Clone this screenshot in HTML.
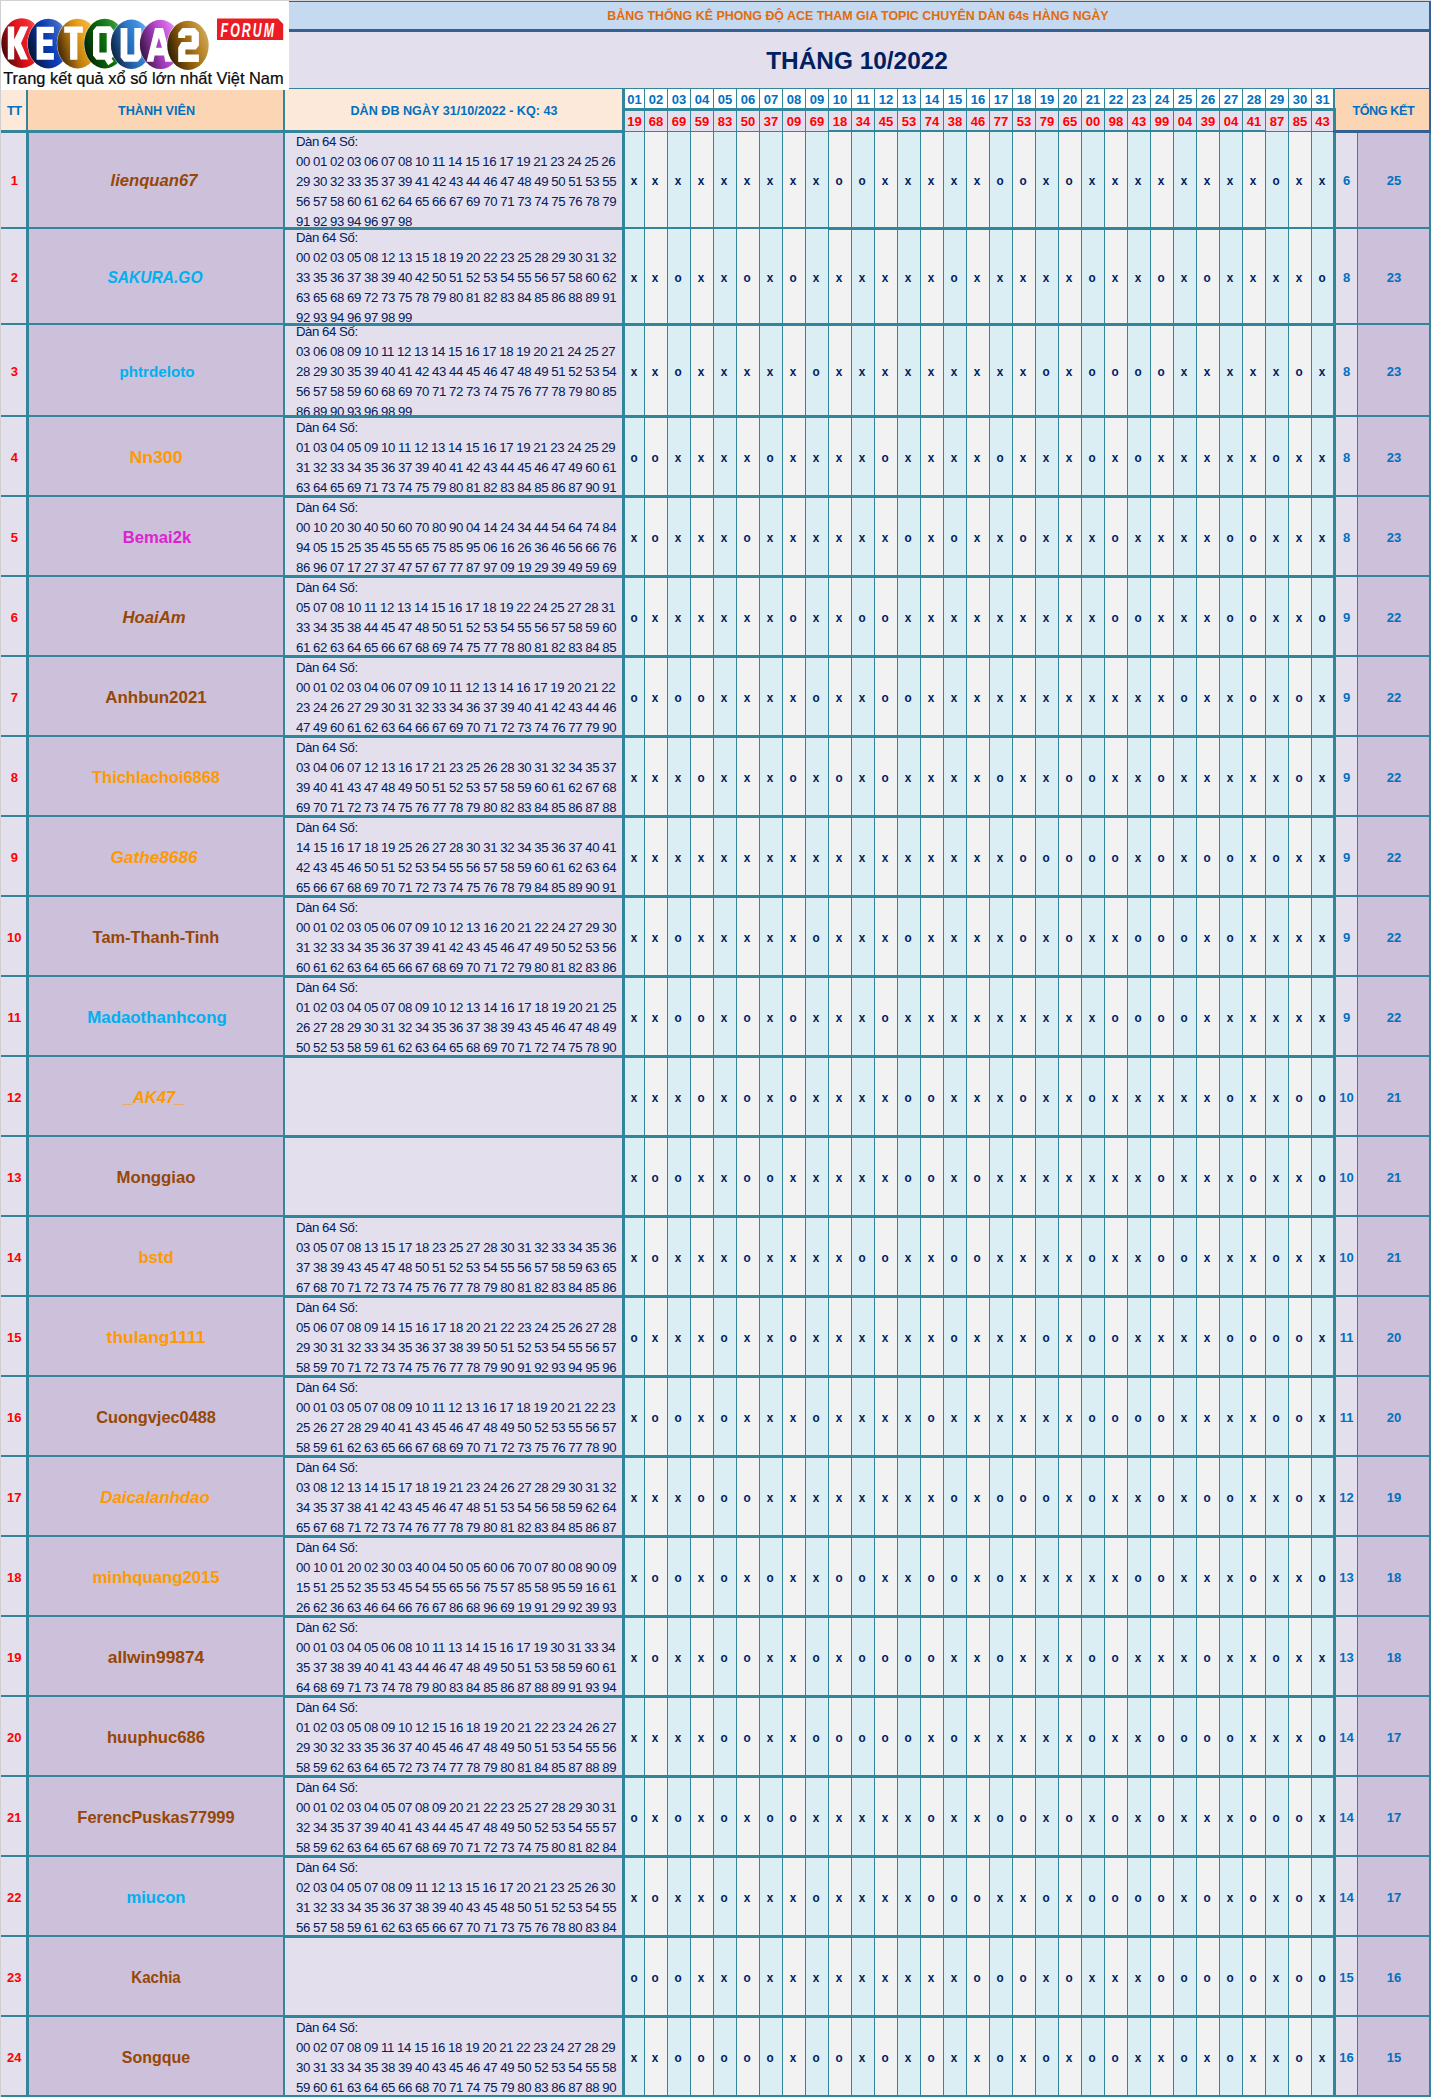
<!DOCTYPE html>
<html><head><meta charset="utf-8"><title>Thong ke</title>
<style>
html,body{margin:0;padding:0;background:#E4DFEC;}
body{width:1431px;height:2097px;overflow:hidden;font-family:"Liberation Sans",sans-serif;}
#pg{position:relative;width:1431px;height:2097px;overflow:hidden;}
#pg i{position:absolute;display:block;}
.t{position:absolute;white-space:nowrap;transform:translate(-50%,-50%);font-weight:bold;line-height:1;}
.ttl{color:#E26B0A;font-size:12.43px;}
.mon{color:#002060;font-size:24.4px;}
.hd{color:#0070C0;font-size:12.6px;}
.dy{color:#0070C0;font-size:13px;}
.rs{color:#FF0000;font-size:13px;}
.tt{color:#FF0000;font-size:13px;}
.nm{font-size:17px;}
.nm.it{font-style:italic;}
.nm.sm{font-size:15px;}
.mk{color:#002060;font-size:13.5px;transform:translate(-50%,-50%) scaleX(0.87);}
.ct{color:#0070C0;font-size:13px;}
.dc{position:absolute;left:285px;width:337px;overflow:hidden;}
.dl{position:absolute;left:10.9px;color:#002060;font-size:13.2px;white-space:nowrap;letter-spacing:-0.34px;word-spacing:-0.29px;}
.dl p{margin:0;height:20px;line-height:20px;}

</style></head><body>
<div id="pg">
<i style="left:289px;top:0px;width:1142px;height:1px;background:#D6D6D6;"></i>
<i style="left:289px;top:1px;width:1142px;height:1px;background:#366092;"></i>
<i style="left:289px;top:2px;width:1140px;height:27px;background:#C5D9F1;"></i>
<i style="left:289px;top:29px;width:1142px;height:3px;background:#366092;"></i>
<i style="left:289px;top:32px;width:1140px;height:56px;background:#E4DFEC;"></i>
<i style="left:289px;top:88px;width:1047px;height:1px;background:#31869B;"></i>
<i style="left:1336px;top:88px;width:93px;height:1px;background:#366092;"></i>
<i style="left:1429px;top:1px;width:2px;height:132px;background:#366092;"></i>
<i style="left:1px;top:90px;width:25px;height:40px;background:#FDE9D9;"></i>
<i style="left:29px;top:90px;width:254px;height:40px;background:#FCD5B4;"></i>
<i style="left:285px;top:89px;width:337px;height:41px;background:#FDE9D9;"></i>
<i style="left:1336px;top:89px;width:93px;height:41px;background:#FCD5B4;"></i>
<i style="left:1336px;top:130px;width:95px;height:3px;background:#366092;"></i>
<i style="left:624px;top:89px;width:20px;height:19px;background:#fff;"></i>
<i style="left:625px;top:111px;width:19px;height:20px;background:#E4DFEC;"></i>
<i style="left:645px;top:89px;width:22px;height:19px;background:#fff;"></i>
<i style="left:645px;top:111px;width:22px;height:20px;background:#E4DFEC;"></i>
<i style="left:668px;top:89px;width:22px;height:19px;background:#fff;"></i>
<i style="left:668px;top:111px;width:22px;height:20px;background:#E4DFEC;"></i>
<i style="left:691px;top:89px;width:22px;height:19px;background:#fff;"></i>
<i style="left:691px;top:111px;width:22px;height:20px;background:#E4DFEC;"></i>
<i style="left:714px;top:89px;width:22px;height:19px;background:#fff;"></i>
<i style="left:714px;top:111px;width:22px;height:20px;background:#E4DFEC;"></i>
<i style="left:737px;top:89px;width:22px;height:19px;background:#fff;"></i>
<i style="left:737px;top:111px;width:22px;height:20px;background:#E4DFEC;"></i>
<i style="left:760px;top:89px;width:22px;height:19px;background:#fff;"></i>
<i style="left:760px;top:111px;width:22px;height:20px;background:#E4DFEC;"></i>
<i style="left:783px;top:89px;width:22px;height:19px;background:#fff;"></i>
<i style="left:783px;top:111px;width:22px;height:20px;background:#E4DFEC;"></i>
<i style="left:806px;top:89px;width:22px;height:19px;background:#fff;"></i>
<i style="left:806px;top:111px;width:22px;height:20px;background:#E4DFEC;"></i>
<i style="left:829px;top:89px;width:22px;height:19px;background:#fff;"></i>
<i style="left:829px;top:111px;width:22px;height:20px;background:#E4DFEC;"></i>
<i style="left:852px;top:89px;width:22px;height:19px;background:#fff;"></i>
<i style="left:852px;top:111px;width:22px;height:20px;background:#E4DFEC;"></i>
<i style="left:875px;top:89px;width:22px;height:19px;background:#fff;"></i>
<i style="left:875px;top:111px;width:22px;height:20px;background:#E4DFEC;"></i>
<i style="left:898px;top:89px;width:22px;height:19px;background:#fff;"></i>
<i style="left:898px;top:111px;width:22px;height:20px;background:#E4DFEC;"></i>
<i style="left:921px;top:89px;width:22px;height:19px;background:#fff;"></i>
<i style="left:921px;top:111px;width:22px;height:20px;background:#E4DFEC;"></i>
<i style="left:944px;top:89px;width:22px;height:19px;background:#fff;"></i>
<i style="left:944px;top:111px;width:22px;height:20px;background:#E4DFEC;"></i>
<i style="left:967px;top:89px;width:22px;height:19px;background:#fff;"></i>
<i style="left:967px;top:111px;width:22px;height:20px;background:#E4DFEC;"></i>
<i style="left:990px;top:89px;width:22px;height:19px;background:#fff;"></i>
<i style="left:990px;top:111px;width:22px;height:20px;background:#E4DFEC;"></i>
<i style="left:1013px;top:89px;width:22px;height:19px;background:#fff;"></i>
<i style="left:1013px;top:111px;width:22px;height:20px;background:#E4DFEC;"></i>
<i style="left:1036px;top:89px;width:22px;height:19px;background:#fff;"></i>
<i style="left:1036px;top:111px;width:22px;height:20px;background:#E4DFEC;"></i>
<i style="left:1059px;top:89px;width:22px;height:19px;background:#fff;"></i>
<i style="left:1059px;top:111px;width:22px;height:20px;background:#E4DFEC;"></i>
<i style="left:1082px;top:89px;width:22px;height:19px;background:#fff;"></i>
<i style="left:1082px;top:111px;width:22px;height:20px;background:#E4DFEC;"></i>
<i style="left:1105px;top:89px;width:22px;height:19px;background:#fff;"></i>
<i style="left:1105px;top:111px;width:22px;height:20px;background:#E4DFEC;"></i>
<i style="left:1128px;top:89px;width:22px;height:19px;background:#fff;"></i>
<i style="left:1128px;top:111px;width:22px;height:20px;background:#E4DFEC;"></i>
<i style="left:1151px;top:89px;width:22px;height:19px;background:#fff;"></i>
<i style="left:1151px;top:111px;width:22px;height:20px;background:#E4DFEC;"></i>
<i style="left:1174px;top:89px;width:22px;height:19px;background:#fff;"></i>
<i style="left:1174px;top:111px;width:22px;height:20px;background:#E4DFEC;"></i>
<i style="left:1197px;top:89px;width:22px;height:19px;background:#fff;"></i>
<i style="left:1197px;top:111px;width:22px;height:20px;background:#E4DFEC;"></i>
<i style="left:1220px;top:89px;width:22px;height:19px;background:#fff;"></i>
<i style="left:1220px;top:111px;width:22px;height:20px;background:#E4DFEC;"></i>
<i style="left:1243px;top:89px;width:22px;height:19px;background:#fff;"></i>
<i style="left:1243px;top:111px;width:22px;height:20px;background:#E4DFEC;"></i>
<i style="left:1266px;top:89px;width:22px;height:19px;background:#fff;"></i>
<i style="left:1266px;top:111px;width:22px;height:20px;background:#E4DFEC;"></i>
<i style="left:1289px;top:89px;width:22px;height:19px;background:#fff;"></i>
<i style="left:1289px;top:111px;width:22px;height:20px;background:#E4DFEC;"></i>
<i style="left:1312px;top:89px;width:21px;height:19px;background:#fff;"></i>
<i style="left:1312px;top:111px;width:21px;height:20px;background:#E4DFEC;"></i>
<i style="left:622px;top:108px;width:714px;height:3px;background:#31869B;"></i>
<i style="left:622px;top:131px;width:714px;height:1px;background:#31869B;"></i>
<i style="left:828px;top:130px;width:438px;height:1px;background:#31869B;"></i>
<i style="left:1px;top:130px;width:621px;height:3px;background:#31869B;"></i>
<i style="left:1px;top:133px;width:25px;height:1962px;background:#E4DFEC;"></i>
<i style="left:29px;top:133px;width:254px;height:1962px;background:#CCC0DA;"></i>
<i style="left:285px;top:133px;width:337px;height:1962px;background:#E4DFEC;"></i>
<i style="left:625px;top:132px;width:19px;height:1963px;background:#DAEEF3;"></i>
<i style="left:645px;top:132px;width:22px;height:1963px;background:#F2F2F2;"></i>
<i style="left:668px;top:132px;width:22px;height:1963px;background:#DAEEF3;"></i>
<i style="left:691px;top:132px;width:22px;height:1963px;background:#F2F2F2;"></i>
<i style="left:714px;top:132px;width:22px;height:1963px;background:#DAEEF3;"></i>
<i style="left:737px;top:132px;width:22px;height:1963px;background:#F2F2F2;"></i>
<i style="left:760px;top:132px;width:22px;height:1963px;background:#DAEEF3;"></i>
<i style="left:783px;top:132px;width:22px;height:1963px;background:#F2F2F2;"></i>
<i style="left:806px;top:132px;width:22px;height:1963px;background:#DAEEF3;"></i>
<i style="left:829px;top:132px;width:22px;height:1963px;background:#F2F2F2;"></i>
<i style="left:852px;top:132px;width:22px;height:1963px;background:#DAEEF3;"></i>
<i style="left:875px;top:132px;width:22px;height:1963px;background:#F2F2F2;"></i>
<i style="left:898px;top:132px;width:22px;height:1963px;background:#DAEEF3;"></i>
<i style="left:921px;top:132px;width:22px;height:1963px;background:#F2F2F2;"></i>
<i style="left:944px;top:132px;width:22px;height:1963px;background:#DAEEF3;"></i>
<i style="left:967px;top:132px;width:22px;height:1963px;background:#F2F2F2;"></i>
<i style="left:990px;top:132px;width:22px;height:1963px;background:#DAEEF3;"></i>
<i style="left:1013px;top:132px;width:22px;height:1963px;background:#F2F2F2;"></i>
<i style="left:1036px;top:132px;width:22px;height:1963px;background:#DAEEF3;"></i>
<i style="left:1059px;top:132px;width:22px;height:1963px;background:#F2F2F2;"></i>
<i style="left:1082px;top:132px;width:22px;height:1963px;background:#DAEEF3;"></i>
<i style="left:1105px;top:132px;width:22px;height:1963px;background:#F2F2F2;"></i>
<i style="left:1128px;top:132px;width:22px;height:1963px;background:#DAEEF3;"></i>
<i style="left:1151px;top:132px;width:22px;height:1963px;background:#F2F2F2;"></i>
<i style="left:1174px;top:132px;width:22px;height:1963px;background:#DAEEF3;"></i>
<i style="left:1197px;top:132px;width:22px;height:1963px;background:#F2F2F2;"></i>
<i style="left:1220px;top:132px;width:22px;height:1963px;background:#DAEEF3;"></i>
<i style="left:1243px;top:132px;width:22px;height:1963px;background:#F2F2F2;"></i>
<i style="left:1266px;top:132px;width:22px;height:1963px;background:#DAEEF3;"></i>
<i style="left:1289px;top:132px;width:22px;height:1963px;background:#F2F2F2;"></i>
<i style="left:1312px;top:132px;width:21px;height:1963px;background:#DAEEF3;"></i>
<i style="left:1336px;top:133px;width:21px;height:1962px;background:#E4DFEC;"></i>
<i style="left:1358px;top:133px;width:71px;height:1962px;background:#CCC0DA;"></i>
<i style="left:0px;top:0px;width:1px;height:2097px;background:#D0D0D0;"></i>
<i style="left:26px;top:90px;width:3px;height:2007px;background:#31869B;"></i>
<i style="left:283px;top:90px;width:2px;height:2007px;background:#31869B;"></i>
<i style="left:622px;top:89px;width:3px;height:2008px;background:#31869B;"></i>
<i style="left:644px;top:89px;width:1px;height:2008px;background:#31869B;"></i>
<i style="left:667px;top:89px;width:1px;height:2008px;background:#31869B;"></i>
<i style="left:690px;top:89px;width:1px;height:2008px;background:#31869B;"></i>
<i style="left:713px;top:89px;width:1px;height:2008px;background:#31869B;"></i>
<i style="left:736px;top:89px;width:1px;height:2008px;background:#31869B;"></i>
<i style="left:759px;top:89px;width:1px;height:2008px;background:#31869B;"></i>
<i style="left:782px;top:89px;width:1px;height:2008px;background:#31869B;"></i>
<i style="left:805px;top:89px;width:1px;height:2008px;background:#31869B;"></i>
<i style="left:828px;top:89px;width:1px;height:2008px;background:#31869B;"></i>
<i style="left:851px;top:89px;width:1px;height:2008px;background:#31869B;"></i>
<i style="left:874px;top:89px;width:1px;height:2008px;background:#31869B;"></i>
<i style="left:897px;top:89px;width:1px;height:2008px;background:#31869B;"></i>
<i style="left:920px;top:89px;width:1px;height:2008px;background:#31869B;"></i>
<i style="left:943px;top:89px;width:1px;height:2008px;background:#31869B;"></i>
<i style="left:966px;top:89px;width:1px;height:2008px;background:#31869B;"></i>
<i style="left:989px;top:89px;width:1px;height:2008px;background:#31869B;"></i>
<i style="left:1012px;top:89px;width:1px;height:2008px;background:#31869B;"></i>
<i style="left:1035px;top:89px;width:1px;height:2008px;background:#31869B;"></i>
<i style="left:1058px;top:89px;width:1px;height:2008px;background:#31869B;"></i>
<i style="left:1081px;top:89px;width:1px;height:2008px;background:#31869B;"></i>
<i style="left:1104px;top:89px;width:1px;height:2008px;background:#31869B;"></i>
<i style="left:1127px;top:89px;width:1px;height:2008px;background:#31869B;"></i>
<i style="left:1150px;top:89px;width:1px;height:2008px;background:#31869B;"></i>
<i style="left:1173px;top:89px;width:1px;height:2008px;background:#31869B;"></i>
<i style="left:1196px;top:89px;width:1px;height:2008px;background:#31869B;"></i>
<i style="left:1219px;top:89px;width:1px;height:2008px;background:#31869B;"></i>
<i style="left:1242px;top:89px;width:1px;height:2008px;background:#31869B;"></i>
<i style="left:1265px;top:89px;width:1px;height:2008px;background:#31869B;"></i>
<i style="left:1288px;top:89px;width:1px;height:2008px;background:#31869B;"></i>
<i style="left:1311px;top:89px;width:1px;height:2008px;background:#31869B;"></i>
<i style="left:1333px;top:89px;width:3px;height:2008px;background:#31869B;"></i>
<i style="left:1335px;top:89px;width:1px;height:19px;background:#FCD5B4;"></i>
<i style="left:1333px;top:130px;width:3px;height:3px;background:#366092;"></i>
<i style="left:1335px;top:88px;width:1px;height:1px;background:#366092;"></i>
<i style="left:28px;top:90px;width:1px;height:40px;background:#FCD5B4;"></i>
<i style="left:1357px;top:133px;width:1px;height:1964px;background:#31869B;"></i>
<i style="left:1429px;top:133px;width:2px;height:1964px;background:#31869B;"></i>
<i style="left:1px;top:227px;width:1430px;height:2px;background:#31869B;"></i>
<i style="left:828px;top:229px;width:438px;height:1px;background:#31869B;"></i>
<i style="left:285px;top:229px;width:337px;height:1px;background:#31869B;"></i>
<i style="left:1px;top:323px;width:1430px;height:2px;background:#31869B;"></i>
<i style="left:285px;top:325px;width:1051px;height:1px;background:#31869B;"></i>
<i style="left:1px;top:415px;width:1430px;height:2px;background:#31869B;"></i>
<i style="left:285px;top:417px;width:1051px;height:1px;background:#31869B;"></i>
<i style="left:1px;top:495px;width:1430px;height:2px;background:#31869B;"></i>
<i style="left:285px;top:497px;width:1051px;height:1px;background:#31869B;"></i>
<i style="left:1px;top:575px;width:1430px;height:2px;background:#31869B;"></i>
<i style="left:285px;top:577px;width:1051px;height:1px;background:#31869B;"></i>
<i style="left:1px;top:655px;width:1430px;height:2px;background:#31869B;"></i>
<i style="left:285px;top:657px;width:1051px;height:1px;background:#31869B;"></i>
<i style="left:1px;top:735px;width:1430px;height:2px;background:#31869B;"></i>
<i style="left:285px;top:737px;width:1051px;height:1px;background:#31869B;"></i>
<i style="left:1px;top:815px;width:1430px;height:2px;background:#31869B;"></i>
<i style="left:285px;top:817px;width:1051px;height:1px;background:#31869B;"></i>
<i style="left:1px;top:895px;width:1430px;height:2px;background:#31869B;"></i>
<i style="left:285px;top:897px;width:1051px;height:1px;background:#31869B;"></i>
<i style="left:1px;top:975px;width:1430px;height:2px;background:#31869B;"></i>
<i style="left:285px;top:977px;width:1051px;height:1px;background:#31869B;"></i>
<i style="left:1px;top:1055px;width:1430px;height:2px;background:#31869B;"></i>
<i style="left:285px;top:1057px;width:1051px;height:1px;background:#31869B;"></i>
<i style="left:1px;top:1135px;width:1430px;height:2px;background:#31869B;"></i>
<i style="left:285px;top:1137px;width:1051px;height:1px;background:#31869B;"></i>
<i style="left:1px;top:1215px;width:1430px;height:2px;background:#31869B;"></i>
<i style="left:285px;top:1217px;width:1051px;height:1px;background:#31869B;"></i>
<i style="left:1px;top:1295px;width:1430px;height:2px;background:#31869B;"></i>
<i style="left:285px;top:1297px;width:1051px;height:1px;background:#31869B;"></i>
<i style="left:1px;top:1375px;width:1430px;height:2px;background:#31869B;"></i>
<i style="left:285px;top:1377px;width:1051px;height:1px;background:#31869B;"></i>
<i style="left:1px;top:1455px;width:1430px;height:2px;background:#31869B;"></i>
<i style="left:285px;top:1457px;width:1051px;height:1px;background:#31869B;"></i>
<i style="left:1px;top:1535px;width:1430px;height:2px;background:#31869B;"></i>
<i style="left:285px;top:1537px;width:1051px;height:1px;background:#31869B;"></i>
<i style="left:1px;top:1615px;width:1430px;height:2px;background:#31869B;"></i>
<i style="left:285px;top:1617px;width:1051px;height:1px;background:#31869B;"></i>
<i style="left:1px;top:1695px;width:1430px;height:2px;background:#31869B;"></i>
<i style="left:285px;top:1697px;width:1051px;height:1px;background:#31869B;"></i>
<i style="left:1px;top:1775px;width:1430px;height:2px;background:#31869B;"></i>
<i style="left:285px;top:1777px;width:1051px;height:1px;background:#31869B;"></i>
<i style="left:1px;top:1855px;width:1430px;height:2px;background:#31869B;"></i>
<i style="left:285px;top:1857px;width:1051px;height:1px;background:#31869B;"></i>
<i style="left:1px;top:1935px;width:1430px;height:2px;background:#31869B;"></i>
<i style="left:285px;top:1937px;width:1051px;height:1px;background:#31869B;"></i>
<i style="left:1px;top:2015px;width:1430px;height:2px;background:#31869B;"></i>
<i style="left:285px;top:2017px;width:1051px;height:1px;background:#31869B;"></i>
<i style="left:1px;top:2095px;width:1430px;height:2px;background:#31869B;"></i>
<b class="t ttl" style="left:858px;top:16px;">BẢNG THỐNG KÊ PHONG ĐỘ ACE THAM GIA TOPIC CHUYÊN DÀN 64s HÀNG NGÀY</b>
<b class="t mon" style="left:857px;top:60.5px;">THÁNG 10/2022</b>
<b class="t hd" style="left:14.3px;top:110.5px;letter-spacing:-0.45px;">TT</b>
<b class="t hd" style="left:156.5px;top:110.5px;">THÀNH VIÊN</b>
<b class="t hd" style="left:454px;top:110.5px;">DÀN ĐB NGÀY 31/10/2022 - KQ: 43</b>
<b class="t hd" style="left:1383.4px;top:110.5px;letter-spacing:-0.39px;">TỔNG KẾT</b>
<b class="t dy" style="left:634.5px;top:98.5px;">01</b>
<b class="t rs" style="left:634.5px;top:120.5px;">19</b>
<b class="t dy" style="left:656.0px;top:98.5px;">02</b>
<b class="t rs" style="left:656.0px;top:120.5px;">68</b>
<b class="t dy" style="left:679.0px;top:98.5px;">03</b>
<b class="t rs" style="left:679.0px;top:120.5px;">69</b>
<b class="t dy" style="left:702.0px;top:98.5px;">04</b>
<b class="t rs" style="left:702.0px;top:120.5px;">59</b>
<b class="t dy" style="left:725.0px;top:98.5px;">05</b>
<b class="t rs" style="left:725.0px;top:120.5px;">83</b>
<b class="t dy" style="left:748.0px;top:98.5px;">06</b>
<b class="t rs" style="left:748.0px;top:120.5px;">50</b>
<b class="t dy" style="left:771.0px;top:98.5px;">07</b>
<b class="t rs" style="left:771.0px;top:120.5px;">37</b>
<b class="t dy" style="left:794.0px;top:98.5px;">08</b>
<b class="t rs" style="left:794.0px;top:120.5px;">09</b>
<b class="t dy" style="left:817.0px;top:98.5px;">09</b>
<b class="t rs" style="left:817.0px;top:120.5px;">69</b>
<b class="t dy" style="left:840.0px;top:98.5px;">10</b>
<b class="t rs" style="left:840.0px;top:120.5px;">18</b>
<b class="t dy" style="left:863.0px;top:98.5px;">11</b>
<b class="t rs" style="left:863.0px;top:120.5px;">34</b>
<b class="t dy" style="left:886.0px;top:98.5px;">12</b>
<b class="t rs" style="left:886.0px;top:120.5px;">45</b>
<b class="t dy" style="left:909.0px;top:98.5px;">13</b>
<b class="t rs" style="left:909.0px;top:120.5px;">53</b>
<b class="t dy" style="left:932.0px;top:98.5px;">14</b>
<b class="t rs" style="left:932.0px;top:120.5px;">74</b>
<b class="t dy" style="left:955.0px;top:98.5px;">15</b>
<b class="t rs" style="left:955.0px;top:120.5px;">38</b>
<b class="t dy" style="left:978.0px;top:98.5px;">16</b>
<b class="t rs" style="left:978.0px;top:120.5px;">46</b>
<b class="t dy" style="left:1001.0px;top:98.5px;">17</b>
<b class="t rs" style="left:1001.0px;top:120.5px;">77</b>
<b class="t dy" style="left:1024.0px;top:98.5px;">18</b>
<b class="t rs" style="left:1024.0px;top:120.5px;">53</b>
<b class="t dy" style="left:1047.0px;top:98.5px;">19</b>
<b class="t rs" style="left:1047.0px;top:120.5px;">79</b>
<b class="t dy" style="left:1070.0px;top:98.5px;">20</b>
<b class="t rs" style="left:1070.0px;top:120.5px;">65</b>
<b class="t dy" style="left:1093.0px;top:98.5px;">21</b>
<b class="t rs" style="left:1093.0px;top:120.5px;">00</b>
<b class="t dy" style="left:1116.0px;top:98.5px;">22</b>
<b class="t rs" style="left:1116.0px;top:120.5px;">98</b>
<b class="t dy" style="left:1139.0px;top:98.5px;">23</b>
<b class="t rs" style="left:1139.0px;top:120.5px;">43</b>
<b class="t dy" style="left:1162.0px;top:98.5px;">24</b>
<b class="t rs" style="left:1162.0px;top:120.5px;">99</b>
<b class="t dy" style="left:1185.0px;top:98.5px;">25</b>
<b class="t rs" style="left:1185.0px;top:120.5px;">04</b>
<b class="t dy" style="left:1208.0px;top:98.5px;">26</b>
<b class="t rs" style="left:1208.0px;top:120.5px;">39</b>
<b class="t dy" style="left:1231.0px;top:98.5px;">27</b>
<b class="t rs" style="left:1231.0px;top:120.5px;">04</b>
<b class="t dy" style="left:1254.0px;top:98.5px;">28</b>
<b class="t rs" style="left:1254.0px;top:120.5px;">41</b>
<b class="t dy" style="left:1277.0px;top:98.5px;">29</b>
<b class="t rs" style="left:1277.0px;top:120.5px;">87</b>
<b class="t dy" style="left:1300.0px;top:98.5px;">30</b>
<b class="t rs" style="left:1300.0px;top:120.5px;">85</b>
<b class="t dy" style="left:1322.5px;top:98.5px;">31</b>
<b class="t rs" style="left:1322.5px;top:120.5px;">43</b>
<b class="t tt" style="left:14.3px;top:179.5px;">1</b>
<b class="t nm it" style="left:154.1px;top:180.0px;color:#974706;transform:translate(-50%,-50%) scaleX(0.9777)">lienquan67</b>
<div class="dc" style="top:133px;height:94px"><div class="dl" style="top:-1.4px"><p>Dàn 64 Số:</p><p>00 01 02 03 06 07 08 10 11 14 15 16 17 19 21 23 24 25 26</p><p>29 30 32 33 35 37 39 41 42 43 44 46 47 48 49 50 51 53 55</p><p>56 57 58 60 61 62 64 65 66 67 69 70 71 73 74 75 76 78 79</p><p>91 92 93 94 96 97 98</p></div></div>
<b class="t mk" style="left:633.5px;top:180.5px;">x</b>
<b class="t mk" style="left:655.0px;top:180.5px;">x</b>
<b class="t mk" style="left:678.0px;top:180.5px;">x</b>
<b class="t mk" style="left:701.0px;top:180.5px;">x</b>
<b class="t mk" style="left:724.0px;top:180.5px;">x</b>
<b class="t mk" style="left:747.0px;top:180.5px;">x</b>
<b class="t mk" style="left:770.0px;top:180.5px;">x</b>
<b class="t mk" style="left:793.0px;top:180.5px;">x</b>
<b class="t mk" style="left:816.0px;top:180.5px;">x</b>
<b class="t mk" style="left:839.0px;top:180.5px;">o</b>
<b class="t mk" style="left:862.0px;top:180.5px;">o</b>
<b class="t mk" style="left:885.0px;top:180.5px;">x</b>
<b class="t mk" style="left:908.0px;top:180.5px;">x</b>
<b class="t mk" style="left:931.0px;top:180.5px;">x</b>
<b class="t mk" style="left:954.0px;top:180.5px;">x</b>
<b class="t mk" style="left:977.0px;top:180.5px;">x</b>
<b class="t mk" style="left:1000.0px;top:180.5px;">o</b>
<b class="t mk" style="left:1023.0px;top:180.5px;">o</b>
<b class="t mk" style="left:1046.0px;top:180.5px;">x</b>
<b class="t mk" style="left:1069.0px;top:180.5px;">o</b>
<b class="t mk" style="left:1092.0px;top:180.5px;">x</b>
<b class="t mk" style="left:1115.0px;top:180.5px;">x</b>
<b class="t mk" style="left:1138.0px;top:180.5px;">x</b>
<b class="t mk" style="left:1161.0px;top:180.5px;">x</b>
<b class="t mk" style="left:1184.0px;top:180.5px;">x</b>
<b class="t mk" style="left:1207.0px;top:180.5px;">x</b>
<b class="t mk" style="left:1230.0px;top:180.5px;">x</b>
<b class="t mk" style="left:1253.0px;top:180.5px;">x</b>
<b class="t mk" style="left:1276.0px;top:180.5px;">o</b>
<b class="t mk" style="left:1299.0px;top:180.5px;">x</b>
<b class="t mk" style="left:1321.5px;top:180.5px;">x</b>
<b class="t ct" style="left:1346.5px;top:179.5px;">6</b>
<b class="t ct" style="left:1394px;top:179.5px;">25</b>
<b class="t tt" style="left:14.3px;top:276.5px;">2</b>
<b class="t nm it" style="left:155.1px;top:277.0px;color:#00B0F0;transform:translate(-50%,-50%) scaleX(0.9148)">SAKURA.GO</b>
<div class="dc" style="top:229px;height:94px"><div class="dl" style="top:-1.4px"><p>Dàn 64 Số:</p><p>00 02 03 05 08 12 13 15 18 19 20 22 23 25 28 29 30 31 32</p><p>33 35 36 37 38 39 40 42 50 51 52 53 54 55 56 57 58 60 62</p><p>63 65 68 69 72 73 75 78 79 80 81 82 83 84 85 86 88 89 91</p><p>92 93 94 96 97 98 99</p></div></div>
<b class="t mk" style="left:633.5px;top:277.5px;">x</b>
<b class="t mk" style="left:655.0px;top:277.5px;">x</b>
<b class="t mk" style="left:678.0px;top:277.5px;">o</b>
<b class="t mk" style="left:701.0px;top:277.5px;">x</b>
<b class="t mk" style="left:724.0px;top:277.5px;">x</b>
<b class="t mk" style="left:747.0px;top:277.5px;">o</b>
<b class="t mk" style="left:770.0px;top:277.5px;">x</b>
<b class="t mk" style="left:793.0px;top:277.5px;">o</b>
<b class="t mk" style="left:816.0px;top:277.5px;">x</b>
<b class="t mk" style="left:839.0px;top:277.5px;">x</b>
<b class="t mk" style="left:862.0px;top:277.5px;">x</b>
<b class="t mk" style="left:885.0px;top:277.5px;">x</b>
<b class="t mk" style="left:908.0px;top:277.5px;">x</b>
<b class="t mk" style="left:931.0px;top:277.5px;">x</b>
<b class="t mk" style="left:954.0px;top:277.5px;">o</b>
<b class="t mk" style="left:977.0px;top:277.5px;">x</b>
<b class="t mk" style="left:1000.0px;top:277.5px;">x</b>
<b class="t mk" style="left:1023.0px;top:277.5px;">x</b>
<b class="t mk" style="left:1046.0px;top:277.5px;">x</b>
<b class="t mk" style="left:1069.0px;top:277.5px;">x</b>
<b class="t mk" style="left:1092.0px;top:277.5px;">o</b>
<b class="t mk" style="left:1115.0px;top:277.5px;">x</b>
<b class="t mk" style="left:1138.0px;top:277.5px;">x</b>
<b class="t mk" style="left:1161.0px;top:277.5px;">o</b>
<b class="t mk" style="left:1184.0px;top:277.5px;">x</b>
<b class="t mk" style="left:1207.0px;top:277.5px;">o</b>
<b class="t mk" style="left:1230.0px;top:277.5px;">x</b>
<b class="t mk" style="left:1253.0px;top:277.5px;">x</b>
<b class="t mk" style="left:1276.0px;top:277.5px;">x</b>
<b class="t mk" style="left:1299.0px;top:277.5px;">x</b>
<b class="t mk" style="left:1321.5px;top:277.5px;">o</b>
<b class="t ct" style="left:1346.5px;top:276.5px;">8</b>
<b class="t ct" style="left:1394px;top:276.5px;">23</b>
<b class="t tt" style="left:14.3px;top:370.5px;">3</b>
<b class="t nm sm" style="left:156.9px;top:371.0px;color:#00B0F0;transform:translate(-50%,-50%) scaleX(1.0137)">phtrdeloto</b>
<div class="dc" style="top:326px;height:89px"><div class="dl" style="top:-4.4px"><p>Dàn 64 Số:</p><p>03 06 08 09 10 11 12 13 14 15 16 17 18 19 20 21 24 25 27</p><p>28 29 30 35 39 40 41 42 43 44 45 46 47 48 49 51 52 53 54</p><p>56 57 58 59 60 68 69 70 71 72 73 74 75 76 77 78 79 80 85</p><p>86 89 90 93 96 98 99</p></div></div>
<b class="t mk" style="left:633.5px;top:371.5px;">x</b>
<b class="t mk" style="left:655.0px;top:371.5px;">x</b>
<b class="t mk" style="left:678.0px;top:371.5px;">o</b>
<b class="t mk" style="left:701.0px;top:371.5px;">x</b>
<b class="t mk" style="left:724.0px;top:371.5px;">x</b>
<b class="t mk" style="left:747.0px;top:371.5px;">x</b>
<b class="t mk" style="left:770.0px;top:371.5px;">x</b>
<b class="t mk" style="left:793.0px;top:371.5px;">x</b>
<b class="t mk" style="left:816.0px;top:371.5px;">o</b>
<b class="t mk" style="left:839.0px;top:371.5px;">x</b>
<b class="t mk" style="left:862.0px;top:371.5px;">x</b>
<b class="t mk" style="left:885.0px;top:371.5px;">x</b>
<b class="t mk" style="left:908.0px;top:371.5px;">x</b>
<b class="t mk" style="left:931.0px;top:371.5px;">x</b>
<b class="t mk" style="left:954.0px;top:371.5px;">x</b>
<b class="t mk" style="left:977.0px;top:371.5px;">x</b>
<b class="t mk" style="left:1000.0px;top:371.5px;">x</b>
<b class="t mk" style="left:1023.0px;top:371.5px;">x</b>
<b class="t mk" style="left:1046.0px;top:371.5px;">o</b>
<b class="t mk" style="left:1069.0px;top:371.5px;">x</b>
<b class="t mk" style="left:1092.0px;top:371.5px;">o</b>
<b class="t mk" style="left:1115.0px;top:371.5px;">o</b>
<b class="t mk" style="left:1138.0px;top:371.5px;">o</b>
<b class="t mk" style="left:1161.0px;top:371.5px;">o</b>
<b class="t mk" style="left:1184.0px;top:371.5px;">x</b>
<b class="t mk" style="left:1207.0px;top:371.5px;">x</b>
<b class="t mk" style="left:1230.0px;top:371.5px;">x</b>
<b class="t mk" style="left:1253.0px;top:371.5px;">x</b>
<b class="t mk" style="left:1276.0px;top:371.5px;">x</b>
<b class="t mk" style="left:1299.0px;top:371.5px;">o</b>
<b class="t mk" style="left:1321.5px;top:371.5px;">x</b>
<b class="t ct" style="left:1346.5px;top:370.5px;">8</b>
<b class="t ct" style="left:1394px;top:370.5px;">23</b>
<b class="t tt" style="left:14.3px;top:456.5px;">4</b>
<b class="t nm" style="left:156.4px;top:457.0px;color:#FF9900;transform:translate(-50%,-50%) scaleX(1.0412)">Nn300</b>
<div class="dc" style="top:418px;height:77px"><div class="dl" style="top:-0.4px"><p>Dàn 64 Số:</p><p>01 03 04 05 09 10 11 12 13 14 15 16 17 19 21 23 24 25 29</p><p>31 32 33 34 35 36 37 39 40 41 42 43 44 45 46 47 49 60 61</p><p>63 64 65 69 71 73 74 75 79 80 81 82 83 84 85 86 87 90 91</p></div></div>
<b class="t mk" style="left:633.5px;top:457.5px;">o</b>
<b class="t mk" style="left:655.0px;top:457.5px;">o</b>
<b class="t mk" style="left:678.0px;top:457.5px;">x</b>
<b class="t mk" style="left:701.0px;top:457.5px;">x</b>
<b class="t mk" style="left:724.0px;top:457.5px;">x</b>
<b class="t mk" style="left:747.0px;top:457.5px;">x</b>
<b class="t mk" style="left:770.0px;top:457.5px;">o</b>
<b class="t mk" style="left:793.0px;top:457.5px;">x</b>
<b class="t mk" style="left:816.0px;top:457.5px;">x</b>
<b class="t mk" style="left:839.0px;top:457.5px;">x</b>
<b class="t mk" style="left:862.0px;top:457.5px;">x</b>
<b class="t mk" style="left:885.0px;top:457.5px;">o</b>
<b class="t mk" style="left:908.0px;top:457.5px;">x</b>
<b class="t mk" style="left:931.0px;top:457.5px;">x</b>
<b class="t mk" style="left:954.0px;top:457.5px;">x</b>
<b class="t mk" style="left:977.0px;top:457.5px;">x</b>
<b class="t mk" style="left:1000.0px;top:457.5px;">o</b>
<b class="t mk" style="left:1023.0px;top:457.5px;">x</b>
<b class="t mk" style="left:1046.0px;top:457.5px;">x</b>
<b class="t mk" style="left:1069.0px;top:457.5px;">x</b>
<b class="t mk" style="left:1092.0px;top:457.5px;">o</b>
<b class="t mk" style="left:1115.0px;top:457.5px;">x</b>
<b class="t mk" style="left:1138.0px;top:457.5px;">o</b>
<b class="t mk" style="left:1161.0px;top:457.5px;">x</b>
<b class="t mk" style="left:1184.0px;top:457.5px;">x</b>
<b class="t mk" style="left:1207.0px;top:457.5px;">x</b>
<b class="t mk" style="left:1230.0px;top:457.5px;">x</b>
<b class="t mk" style="left:1253.0px;top:457.5px;">x</b>
<b class="t mk" style="left:1276.0px;top:457.5px;">o</b>
<b class="t mk" style="left:1299.0px;top:457.5px;">x</b>
<b class="t mk" style="left:1321.5px;top:457.5px;">x</b>
<b class="t ct" style="left:1346.5px;top:456.5px;">8</b>
<b class="t ct" style="left:1394px;top:456.5px;">23</b>
<b class="t tt" style="left:14.3px;top:536.5px;">5</b>
<b class="t nm" style="left:156.7px;top:537.0px;color:#DD22D0;transform:translate(-50%,-50%) scaleX(0.9769)">Bemai2k</b>
<div class="dc" style="top:498px;height:77px"><div class="dl" style="top:-0.4px"><p>Dàn 64 Số:</p><p>00 10 20 30 40 50 60 70 80 90 04 14 24 34 44 54 64 74 84</p><p>94 05 15 25 35 45 55 65 75 85 95 06 16 26 36 46 56 66 76</p><p>86 96 07 17 27 37 47 57 67 77 87 97 09 19 29 39 49 59 69</p></div></div>
<b class="t mk" style="left:633.5px;top:537.5px;">x</b>
<b class="t mk" style="left:655.0px;top:537.5px;">o</b>
<b class="t mk" style="left:678.0px;top:537.5px;">x</b>
<b class="t mk" style="left:701.0px;top:537.5px;">x</b>
<b class="t mk" style="left:724.0px;top:537.5px;">x</b>
<b class="t mk" style="left:747.0px;top:537.5px;">o</b>
<b class="t mk" style="left:770.0px;top:537.5px;">x</b>
<b class="t mk" style="left:793.0px;top:537.5px;">x</b>
<b class="t mk" style="left:816.0px;top:537.5px;">x</b>
<b class="t mk" style="left:839.0px;top:537.5px;">x</b>
<b class="t mk" style="left:862.0px;top:537.5px;">x</b>
<b class="t mk" style="left:885.0px;top:537.5px;">x</b>
<b class="t mk" style="left:908.0px;top:537.5px;">o</b>
<b class="t mk" style="left:931.0px;top:537.5px;">x</b>
<b class="t mk" style="left:954.0px;top:537.5px;">o</b>
<b class="t mk" style="left:977.0px;top:537.5px;">x</b>
<b class="t mk" style="left:1000.0px;top:537.5px;">x</b>
<b class="t mk" style="left:1023.0px;top:537.5px;">o</b>
<b class="t mk" style="left:1046.0px;top:537.5px;">x</b>
<b class="t mk" style="left:1069.0px;top:537.5px;">x</b>
<b class="t mk" style="left:1092.0px;top:537.5px;">x</b>
<b class="t mk" style="left:1115.0px;top:537.5px;">o</b>
<b class="t mk" style="left:1138.0px;top:537.5px;">x</b>
<b class="t mk" style="left:1161.0px;top:537.5px;">x</b>
<b class="t mk" style="left:1184.0px;top:537.5px;">x</b>
<b class="t mk" style="left:1207.0px;top:537.5px;">x</b>
<b class="t mk" style="left:1230.0px;top:537.5px;">o</b>
<b class="t mk" style="left:1253.0px;top:537.5px;">o</b>
<b class="t mk" style="left:1276.0px;top:537.5px;">x</b>
<b class="t mk" style="left:1299.0px;top:537.5px;">x</b>
<b class="t mk" style="left:1321.5px;top:537.5px;">x</b>
<b class="t ct" style="left:1346.5px;top:536.5px;">8</b>
<b class="t ct" style="left:1394px;top:536.5px;">23</b>
<b class="t tt" style="left:14.3px;top:616.5px;">6</b>
<b class="t nm it" style="left:154.1px;top:617.0px;color:#974706;transform:translate(-50%,-50%) scaleX(0.9813)">HoaiAm</b>
<div class="dc" style="top:578px;height:77px"><div class="dl" style="top:-0.4px"><p>Dàn 64 Số:</p><p>05 07 08 10 11 12 13 14 15 16 17 18 19 22 24 25 27 28 31</p><p>33 34 35 38 44 45 47 48 50 51 52 53 54 55 56 57 58 59 60</p><p>61 62 63 64 65 66 67 68 69 74 75 77 78 80 81 82 83 84 85</p></div></div>
<b class="t mk" style="left:633.5px;top:617.5px;">o</b>
<b class="t mk" style="left:655.0px;top:617.5px;">x</b>
<b class="t mk" style="left:678.0px;top:617.5px;">x</b>
<b class="t mk" style="left:701.0px;top:617.5px;">x</b>
<b class="t mk" style="left:724.0px;top:617.5px;">x</b>
<b class="t mk" style="left:747.0px;top:617.5px;">x</b>
<b class="t mk" style="left:770.0px;top:617.5px;">x</b>
<b class="t mk" style="left:793.0px;top:617.5px;">o</b>
<b class="t mk" style="left:816.0px;top:617.5px;">x</b>
<b class="t mk" style="left:839.0px;top:617.5px;">x</b>
<b class="t mk" style="left:862.0px;top:617.5px;">o</b>
<b class="t mk" style="left:885.0px;top:617.5px;">o</b>
<b class="t mk" style="left:908.0px;top:617.5px;">x</b>
<b class="t mk" style="left:931.0px;top:617.5px;">x</b>
<b class="t mk" style="left:954.0px;top:617.5px;">x</b>
<b class="t mk" style="left:977.0px;top:617.5px;">x</b>
<b class="t mk" style="left:1000.0px;top:617.5px;">x</b>
<b class="t mk" style="left:1023.0px;top:617.5px;">x</b>
<b class="t mk" style="left:1046.0px;top:617.5px;">x</b>
<b class="t mk" style="left:1069.0px;top:617.5px;">x</b>
<b class="t mk" style="left:1092.0px;top:617.5px;">x</b>
<b class="t mk" style="left:1115.0px;top:617.5px;">o</b>
<b class="t mk" style="left:1138.0px;top:617.5px;">o</b>
<b class="t mk" style="left:1161.0px;top:617.5px;">x</b>
<b class="t mk" style="left:1184.0px;top:617.5px;">x</b>
<b class="t mk" style="left:1207.0px;top:617.5px;">x</b>
<b class="t mk" style="left:1230.0px;top:617.5px;">o</b>
<b class="t mk" style="left:1253.0px;top:617.5px;">o</b>
<b class="t mk" style="left:1276.0px;top:617.5px;">x</b>
<b class="t mk" style="left:1299.0px;top:617.5px;">x</b>
<b class="t mk" style="left:1321.5px;top:617.5px;">o</b>
<b class="t ct" style="left:1346.5px;top:616.5px;">9</b>
<b class="t ct" style="left:1394px;top:616.5px;">22</b>
<b class="t tt" style="left:14.3px;top:696.5px;">7</b>
<b class="t nm" style="left:155.7px;top:697.0px;color:#974706;transform:translate(-50%,-50%) scaleX(0.9941)">Anhbun2021</b>
<div class="dc" style="top:658px;height:77px"><div class="dl" style="top:-0.4px"><p>Dàn 64 Số:</p><p>00 01 02 03 04 06 07 09 10 11 12 13 14 16 17 19 20 21 22</p><p>23 24 26 27 29 30 31 32 33 34 36 37 39 40 41 42 43 44 46</p><p>47 49 60 61 62 63 64 66 67 69 70 71 72 73 74 76 77 79 90</p></div></div>
<b class="t mk" style="left:633.5px;top:697.5px;">o</b>
<b class="t mk" style="left:655.0px;top:697.5px;">x</b>
<b class="t mk" style="left:678.0px;top:697.5px;">o</b>
<b class="t mk" style="left:701.0px;top:697.5px;">o</b>
<b class="t mk" style="left:724.0px;top:697.5px;">x</b>
<b class="t mk" style="left:747.0px;top:697.5px;">x</b>
<b class="t mk" style="left:770.0px;top:697.5px;">x</b>
<b class="t mk" style="left:793.0px;top:697.5px;">x</b>
<b class="t mk" style="left:816.0px;top:697.5px;">o</b>
<b class="t mk" style="left:839.0px;top:697.5px;">x</b>
<b class="t mk" style="left:862.0px;top:697.5px;">x</b>
<b class="t mk" style="left:885.0px;top:697.5px;">o</b>
<b class="t mk" style="left:908.0px;top:697.5px;">o</b>
<b class="t mk" style="left:931.0px;top:697.5px;">x</b>
<b class="t mk" style="left:954.0px;top:697.5px;">x</b>
<b class="t mk" style="left:977.0px;top:697.5px;">x</b>
<b class="t mk" style="left:1000.0px;top:697.5px;">x</b>
<b class="t mk" style="left:1023.0px;top:697.5px;">x</b>
<b class="t mk" style="left:1046.0px;top:697.5px;">x</b>
<b class="t mk" style="left:1069.0px;top:697.5px;">x</b>
<b class="t mk" style="left:1092.0px;top:697.5px;">x</b>
<b class="t mk" style="left:1115.0px;top:697.5px;">x</b>
<b class="t mk" style="left:1138.0px;top:697.5px;">x</b>
<b class="t mk" style="left:1161.0px;top:697.5px;">x</b>
<b class="t mk" style="left:1184.0px;top:697.5px;">o</b>
<b class="t mk" style="left:1207.0px;top:697.5px;">x</b>
<b class="t mk" style="left:1230.0px;top:697.5px;">x</b>
<b class="t mk" style="left:1253.0px;top:697.5px;">o</b>
<b class="t mk" style="left:1276.0px;top:697.5px;">x</b>
<b class="t mk" style="left:1299.0px;top:697.5px;">o</b>
<b class="t mk" style="left:1321.5px;top:697.5px;">x</b>
<b class="t ct" style="left:1346.5px;top:696.5px;">9</b>
<b class="t ct" style="left:1394px;top:696.5px;">22</b>
<b class="t tt" style="left:14.3px;top:776.5px;">8</b>
<b class="t nm" style="left:155.9px;top:777.0px;color:#FF9900;transform:translate(-50%,-50%) scaleX(0.9669)">Thichlachoi6868</b>
<div class="dc" style="top:738px;height:77px"><div class="dl" style="top:-0.4px"><p>Dàn 64 Số:</p><p>03 04 06 07 12 13 16 17 21 23 25 26 28 30 31 32 34 35 37</p><p>39 40 41 43 47 48 49 50 51 52 53 57 58 59 60 61 62 67 68</p><p>69 70 71 72 73 74 75 76 77 78 79 80 82 83 84 85 86 87 88</p></div></div>
<b class="t mk" style="left:633.5px;top:777.5px;">x</b>
<b class="t mk" style="left:655.0px;top:777.5px;">x</b>
<b class="t mk" style="left:678.0px;top:777.5px;">x</b>
<b class="t mk" style="left:701.0px;top:777.5px;">o</b>
<b class="t mk" style="left:724.0px;top:777.5px;">x</b>
<b class="t mk" style="left:747.0px;top:777.5px;">x</b>
<b class="t mk" style="left:770.0px;top:777.5px;">x</b>
<b class="t mk" style="left:793.0px;top:777.5px;">o</b>
<b class="t mk" style="left:816.0px;top:777.5px;">x</b>
<b class="t mk" style="left:839.0px;top:777.5px;">o</b>
<b class="t mk" style="left:862.0px;top:777.5px;">x</b>
<b class="t mk" style="left:885.0px;top:777.5px;">o</b>
<b class="t mk" style="left:908.0px;top:777.5px;">x</b>
<b class="t mk" style="left:931.0px;top:777.5px;">x</b>
<b class="t mk" style="left:954.0px;top:777.5px;">x</b>
<b class="t mk" style="left:977.0px;top:777.5px;">x</b>
<b class="t mk" style="left:1000.0px;top:777.5px;">o</b>
<b class="t mk" style="left:1023.0px;top:777.5px;">x</b>
<b class="t mk" style="left:1046.0px;top:777.5px;">x</b>
<b class="t mk" style="left:1069.0px;top:777.5px;">o</b>
<b class="t mk" style="left:1092.0px;top:777.5px;">o</b>
<b class="t mk" style="left:1115.0px;top:777.5px;">x</b>
<b class="t mk" style="left:1138.0px;top:777.5px;">x</b>
<b class="t mk" style="left:1161.0px;top:777.5px;">o</b>
<b class="t mk" style="left:1184.0px;top:777.5px;">x</b>
<b class="t mk" style="left:1207.0px;top:777.5px;">x</b>
<b class="t mk" style="left:1230.0px;top:777.5px;">x</b>
<b class="t mk" style="left:1253.0px;top:777.5px;">x</b>
<b class="t mk" style="left:1276.0px;top:777.5px;">x</b>
<b class="t mk" style="left:1299.0px;top:777.5px;">o</b>
<b class="t mk" style="left:1321.5px;top:777.5px;">x</b>
<b class="t ct" style="left:1346.5px;top:776.5px;">9</b>
<b class="t ct" style="left:1394px;top:776.5px;">22</b>
<b class="t tt" style="left:14.3px;top:856.5px;">9</b>
<b class="t nm it" style="left:153.8px;top:857.0px;color:#FF9900;transform:translate(-50%,-50%) scaleX(1.0140)">Gathe8686</b>
<div class="dc" style="top:818px;height:77px"><div class="dl" style="top:-0.4px"><p>Dàn 64 Số:</p><p>14 15 16 17 18 19 25 26 27 28 30 31 32 34 35 36 37 40 41</p><p>42 43 45 46 50 51 52 53 54 55 56 57 58 59 60 61 62 63 64</p><p>65 66 67 68 69 70 71 72 73 74 75 76 78 79 84 85 89 90 91</p></div></div>
<b class="t mk" style="left:633.5px;top:857.5px;">x</b>
<b class="t mk" style="left:655.0px;top:857.5px;">x</b>
<b class="t mk" style="left:678.0px;top:857.5px;">x</b>
<b class="t mk" style="left:701.0px;top:857.5px;">x</b>
<b class="t mk" style="left:724.0px;top:857.5px;">x</b>
<b class="t mk" style="left:747.0px;top:857.5px;">x</b>
<b class="t mk" style="left:770.0px;top:857.5px;">x</b>
<b class="t mk" style="left:793.0px;top:857.5px;">x</b>
<b class="t mk" style="left:816.0px;top:857.5px;">x</b>
<b class="t mk" style="left:839.0px;top:857.5px;">x</b>
<b class="t mk" style="left:862.0px;top:857.5px;">x</b>
<b class="t mk" style="left:885.0px;top:857.5px;">x</b>
<b class="t mk" style="left:908.0px;top:857.5px;">x</b>
<b class="t mk" style="left:931.0px;top:857.5px;">x</b>
<b class="t mk" style="left:954.0px;top:857.5px;">x</b>
<b class="t mk" style="left:977.0px;top:857.5px;">x</b>
<b class="t mk" style="left:1000.0px;top:857.5px;">x</b>
<b class="t mk" style="left:1023.0px;top:857.5px;">o</b>
<b class="t mk" style="left:1046.0px;top:857.5px;">o</b>
<b class="t mk" style="left:1069.0px;top:857.5px;">o</b>
<b class="t mk" style="left:1092.0px;top:857.5px;">o</b>
<b class="t mk" style="left:1115.0px;top:857.5px;">o</b>
<b class="t mk" style="left:1138.0px;top:857.5px;">x</b>
<b class="t mk" style="left:1161.0px;top:857.5px;">o</b>
<b class="t mk" style="left:1184.0px;top:857.5px;">x</b>
<b class="t mk" style="left:1207.0px;top:857.5px;">o</b>
<b class="t mk" style="left:1230.0px;top:857.5px;">o</b>
<b class="t mk" style="left:1253.0px;top:857.5px;">x</b>
<b class="t mk" style="left:1276.0px;top:857.5px;">o</b>
<b class="t mk" style="left:1299.0px;top:857.5px;">x</b>
<b class="t mk" style="left:1321.5px;top:857.5px;">x</b>
<b class="t ct" style="left:1346.5px;top:856.5px;">9</b>
<b class="t ct" style="left:1394px;top:856.5px;">22</b>
<b class="t tt" style="left:14.3px;top:936.5px;">10</b>
<b class="t nm" style="left:156.2px;top:937.0px;color:#974706;transform:translate(-50%,-50%) scaleX(0.9634)">Tam-Thanh-Tinh</b>
<div class="dc" style="top:898px;height:77px"><div class="dl" style="top:-0.4px"><p>Dàn 64 Số:</p><p>00 01 02 03 05 06 07 09 10 12 13 16 20 21 22 24 27 29 30</p><p>31 32 33 34 35 36 37 39 41 42 43 45 46 47 49 50 52 53 56</p><p>60 61 62 63 64 65 66 67 68 69 70 71 72 79 80 81 82 83 86</p></div></div>
<b class="t mk" style="left:633.5px;top:937.5px;">x</b>
<b class="t mk" style="left:655.0px;top:937.5px;">x</b>
<b class="t mk" style="left:678.0px;top:937.5px;">o</b>
<b class="t mk" style="left:701.0px;top:937.5px;">x</b>
<b class="t mk" style="left:724.0px;top:937.5px;">x</b>
<b class="t mk" style="left:747.0px;top:937.5px;">x</b>
<b class="t mk" style="left:770.0px;top:937.5px;">x</b>
<b class="t mk" style="left:793.0px;top:937.5px;">x</b>
<b class="t mk" style="left:816.0px;top:937.5px;">o</b>
<b class="t mk" style="left:839.0px;top:937.5px;">x</b>
<b class="t mk" style="left:862.0px;top:937.5px;">x</b>
<b class="t mk" style="left:885.0px;top:937.5px;">x</b>
<b class="t mk" style="left:908.0px;top:937.5px;">o</b>
<b class="t mk" style="left:931.0px;top:937.5px;">x</b>
<b class="t mk" style="left:954.0px;top:937.5px;">x</b>
<b class="t mk" style="left:977.0px;top:937.5px;">x</b>
<b class="t mk" style="left:1000.0px;top:937.5px;">x</b>
<b class="t mk" style="left:1023.0px;top:937.5px;">o</b>
<b class="t mk" style="left:1046.0px;top:937.5px;">x</b>
<b class="t mk" style="left:1069.0px;top:937.5px;">o</b>
<b class="t mk" style="left:1092.0px;top:937.5px;">x</b>
<b class="t mk" style="left:1115.0px;top:937.5px;">x</b>
<b class="t mk" style="left:1138.0px;top:937.5px;">o</b>
<b class="t mk" style="left:1161.0px;top:937.5px;">o</b>
<b class="t mk" style="left:1184.0px;top:937.5px;">o</b>
<b class="t mk" style="left:1207.0px;top:937.5px;">x</b>
<b class="t mk" style="left:1230.0px;top:937.5px;">o</b>
<b class="t mk" style="left:1253.0px;top:937.5px;">x</b>
<b class="t mk" style="left:1276.0px;top:937.5px;">x</b>
<b class="t mk" style="left:1299.0px;top:937.5px;">x</b>
<b class="t mk" style="left:1321.5px;top:937.5px;">x</b>
<b class="t ct" style="left:1346.5px;top:936.5px;">9</b>
<b class="t ct" style="left:1394px;top:936.5px;">22</b>
<b class="t tt" style="left:14.3px;top:1016.5px;">11</b>
<b class="t nm" style="left:156.7px;top:1017.0px;color:#00B0F0;transform:translate(-50%,-50%) scaleX(0.9915)">Madaothanhcong</b>
<div class="dc" style="top:978px;height:77px"><div class="dl" style="top:-0.4px"><p>Dàn 64 Số:</p><p>01 02 03 04 05 07 08 09 10 12 13 14 16 17 18 19 20 21 25</p><p>26 27 28 29 30 31 32 34 35 36 37 38 39 43 45 46 47 48 49</p><p>50 52 53 58 59 61 62 63 64 65 68 69 70 71 72 74 75 78 90</p></div></div>
<b class="t mk" style="left:633.5px;top:1017.5px;">x</b>
<b class="t mk" style="left:655.0px;top:1017.5px;">x</b>
<b class="t mk" style="left:678.0px;top:1017.5px;">o</b>
<b class="t mk" style="left:701.0px;top:1017.5px;">o</b>
<b class="t mk" style="left:724.0px;top:1017.5px;">x</b>
<b class="t mk" style="left:747.0px;top:1017.5px;">o</b>
<b class="t mk" style="left:770.0px;top:1017.5px;">x</b>
<b class="t mk" style="left:793.0px;top:1017.5px;">o</b>
<b class="t mk" style="left:816.0px;top:1017.5px;">x</b>
<b class="t mk" style="left:839.0px;top:1017.5px;">x</b>
<b class="t mk" style="left:862.0px;top:1017.5px;">x</b>
<b class="t mk" style="left:885.0px;top:1017.5px;">o</b>
<b class="t mk" style="left:908.0px;top:1017.5px;">x</b>
<b class="t mk" style="left:931.0px;top:1017.5px;">x</b>
<b class="t mk" style="left:954.0px;top:1017.5px;">x</b>
<b class="t mk" style="left:977.0px;top:1017.5px;">x</b>
<b class="t mk" style="left:1000.0px;top:1017.5px;">x</b>
<b class="t mk" style="left:1023.0px;top:1017.5px;">x</b>
<b class="t mk" style="left:1046.0px;top:1017.5px;">x</b>
<b class="t mk" style="left:1069.0px;top:1017.5px;">x</b>
<b class="t mk" style="left:1092.0px;top:1017.5px;">x</b>
<b class="t mk" style="left:1115.0px;top:1017.5px;">o</b>
<b class="t mk" style="left:1138.0px;top:1017.5px;">o</b>
<b class="t mk" style="left:1161.0px;top:1017.5px;">o</b>
<b class="t mk" style="left:1184.0px;top:1017.5px;">o</b>
<b class="t mk" style="left:1207.0px;top:1017.5px;">x</b>
<b class="t mk" style="left:1230.0px;top:1017.5px;">x</b>
<b class="t mk" style="left:1253.0px;top:1017.5px;">x</b>
<b class="t mk" style="left:1276.0px;top:1017.5px;">x</b>
<b class="t mk" style="left:1299.0px;top:1017.5px;">x</b>
<b class="t mk" style="left:1321.5px;top:1017.5px;">x</b>
<b class="t ct" style="left:1346.5px;top:1016.5px;">9</b>
<b class="t ct" style="left:1394px;top:1016.5px;">22</b>
<b class="t tt" style="left:14.3px;top:1096.5px;">12</b>
<b class="t nm it" style="left:153.7px;top:1097.0px;color:#FF9900;transform:translate(-50%,-50%) scaleX(0.9779)">_AK47_</b>
<b class="t mk" style="left:633.5px;top:1097.5px;">x</b>
<b class="t mk" style="left:655.0px;top:1097.5px;">x</b>
<b class="t mk" style="left:678.0px;top:1097.5px;">x</b>
<b class="t mk" style="left:701.0px;top:1097.5px;">o</b>
<b class="t mk" style="left:724.0px;top:1097.5px;">x</b>
<b class="t mk" style="left:747.0px;top:1097.5px;">o</b>
<b class="t mk" style="left:770.0px;top:1097.5px;">x</b>
<b class="t mk" style="left:793.0px;top:1097.5px;">o</b>
<b class="t mk" style="left:816.0px;top:1097.5px;">x</b>
<b class="t mk" style="left:839.0px;top:1097.5px;">x</b>
<b class="t mk" style="left:862.0px;top:1097.5px;">x</b>
<b class="t mk" style="left:885.0px;top:1097.5px;">x</b>
<b class="t mk" style="left:908.0px;top:1097.5px;">o</b>
<b class="t mk" style="left:931.0px;top:1097.5px;">o</b>
<b class="t mk" style="left:954.0px;top:1097.5px;">x</b>
<b class="t mk" style="left:977.0px;top:1097.5px;">x</b>
<b class="t mk" style="left:1000.0px;top:1097.5px;">x</b>
<b class="t mk" style="left:1023.0px;top:1097.5px;">o</b>
<b class="t mk" style="left:1046.0px;top:1097.5px;">x</b>
<b class="t mk" style="left:1069.0px;top:1097.5px;">x</b>
<b class="t mk" style="left:1092.0px;top:1097.5px;">o</b>
<b class="t mk" style="left:1115.0px;top:1097.5px;">x</b>
<b class="t mk" style="left:1138.0px;top:1097.5px;">x</b>
<b class="t mk" style="left:1161.0px;top:1097.5px;">x</b>
<b class="t mk" style="left:1184.0px;top:1097.5px;">x</b>
<b class="t mk" style="left:1207.0px;top:1097.5px;">x</b>
<b class="t mk" style="left:1230.0px;top:1097.5px;">o</b>
<b class="t mk" style="left:1253.0px;top:1097.5px;">x</b>
<b class="t mk" style="left:1276.0px;top:1097.5px;">x</b>
<b class="t mk" style="left:1299.0px;top:1097.5px;">o</b>
<b class="t mk" style="left:1321.5px;top:1097.5px;">o</b>
<b class="t ct" style="left:1346.5px;top:1096.5px;">10</b>
<b class="t ct" style="left:1394px;top:1096.5px;">21</b>
<b class="t tt" style="left:14.3px;top:1176.5px;">13</b>
<b class="t nm" style="left:156.2px;top:1177.0px;color:#974706;transform:translate(-50%,-50%) scaleX(0.9850)">Monggiao</b>
<b class="t mk" style="left:633.5px;top:1177.5px;">x</b>
<b class="t mk" style="left:655.0px;top:1177.5px;">o</b>
<b class="t mk" style="left:678.0px;top:1177.5px;">o</b>
<b class="t mk" style="left:701.0px;top:1177.5px;">x</b>
<b class="t mk" style="left:724.0px;top:1177.5px;">x</b>
<b class="t mk" style="left:747.0px;top:1177.5px;">o</b>
<b class="t mk" style="left:770.0px;top:1177.5px;">o</b>
<b class="t mk" style="left:793.0px;top:1177.5px;">x</b>
<b class="t mk" style="left:816.0px;top:1177.5px;">x</b>
<b class="t mk" style="left:839.0px;top:1177.5px;">x</b>
<b class="t mk" style="left:862.0px;top:1177.5px;">x</b>
<b class="t mk" style="left:885.0px;top:1177.5px;">x</b>
<b class="t mk" style="left:908.0px;top:1177.5px;">o</b>
<b class="t mk" style="left:931.0px;top:1177.5px;">o</b>
<b class="t mk" style="left:954.0px;top:1177.5px;">x</b>
<b class="t mk" style="left:977.0px;top:1177.5px;">o</b>
<b class="t mk" style="left:1000.0px;top:1177.5px;">x</b>
<b class="t mk" style="left:1023.0px;top:1177.5px;">x</b>
<b class="t mk" style="left:1046.0px;top:1177.5px;">x</b>
<b class="t mk" style="left:1069.0px;top:1177.5px;">x</b>
<b class="t mk" style="left:1092.0px;top:1177.5px;">x</b>
<b class="t mk" style="left:1115.0px;top:1177.5px;">x</b>
<b class="t mk" style="left:1138.0px;top:1177.5px;">x</b>
<b class="t mk" style="left:1161.0px;top:1177.5px;">o</b>
<b class="t mk" style="left:1184.0px;top:1177.5px;">x</b>
<b class="t mk" style="left:1207.0px;top:1177.5px;">x</b>
<b class="t mk" style="left:1230.0px;top:1177.5px;">x</b>
<b class="t mk" style="left:1253.0px;top:1177.5px;">o</b>
<b class="t mk" style="left:1276.0px;top:1177.5px;">x</b>
<b class="t mk" style="left:1299.0px;top:1177.5px;">x</b>
<b class="t mk" style="left:1321.5px;top:1177.5px;">o</b>
<b class="t ct" style="left:1346.5px;top:1176.5px;">10</b>
<b class="t ct" style="left:1394px;top:1176.5px;">21</b>
<b class="t tt" style="left:14.3px;top:1256.5px;">14</b>
<b class="t nm" style="left:156.2px;top:1257.0px;color:#FF9900;transform:translate(-50%,-50%) scaleX(0.9766)">bstd</b>
<div class="dc" style="top:1218px;height:77px"><div class="dl" style="top:-0.4px"><p>Dàn 64 Số:</p><p>03 05 07 08 13 15 17 18 23 25 27 28 30 31 32 33 34 35 36</p><p>37 38 39 43 45 47 48 50 51 52 53 54 55 56 57 58 59 63 65</p><p>67 68 70 71 72 73 74 75 76 77 78 79 80 81 82 83 84 85 86</p></div></div>
<b class="t mk" style="left:633.5px;top:1257.5px;">x</b>
<b class="t mk" style="left:655.0px;top:1257.5px;">o</b>
<b class="t mk" style="left:678.0px;top:1257.5px;">x</b>
<b class="t mk" style="left:701.0px;top:1257.5px;">x</b>
<b class="t mk" style="left:724.0px;top:1257.5px;">x</b>
<b class="t mk" style="left:747.0px;top:1257.5px;">o</b>
<b class="t mk" style="left:770.0px;top:1257.5px;">x</b>
<b class="t mk" style="left:793.0px;top:1257.5px;">x</b>
<b class="t mk" style="left:816.0px;top:1257.5px;">x</b>
<b class="t mk" style="left:839.0px;top:1257.5px;">x</b>
<b class="t mk" style="left:862.0px;top:1257.5px;">o</b>
<b class="t mk" style="left:885.0px;top:1257.5px;">o</b>
<b class="t mk" style="left:908.0px;top:1257.5px;">x</b>
<b class="t mk" style="left:931.0px;top:1257.5px;">x</b>
<b class="t mk" style="left:954.0px;top:1257.5px;">o</b>
<b class="t mk" style="left:977.0px;top:1257.5px;">o</b>
<b class="t mk" style="left:1000.0px;top:1257.5px;">x</b>
<b class="t mk" style="left:1023.0px;top:1257.5px;">x</b>
<b class="t mk" style="left:1046.0px;top:1257.5px;">x</b>
<b class="t mk" style="left:1069.0px;top:1257.5px;">x</b>
<b class="t mk" style="left:1092.0px;top:1257.5px;">o</b>
<b class="t mk" style="left:1115.0px;top:1257.5px;">x</b>
<b class="t mk" style="left:1138.0px;top:1257.5px;">x</b>
<b class="t mk" style="left:1161.0px;top:1257.5px;">o</b>
<b class="t mk" style="left:1184.0px;top:1257.5px;">o</b>
<b class="t mk" style="left:1207.0px;top:1257.5px;">x</b>
<b class="t mk" style="left:1230.0px;top:1257.5px;">x</b>
<b class="t mk" style="left:1253.0px;top:1257.5px;">x</b>
<b class="t mk" style="left:1276.0px;top:1257.5px;">o</b>
<b class="t mk" style="left:1299.0px;top:1257.5px;">x</b>
<b class="t mk" style="left:1321.5px;top:1257.5px;">x</b>
<b class="t ct" style="left:1346.5px;top:1256.5px;">10</b>
<b class="t ct" style="left:1394px;top:1256.5px;">21</b>
<b class="t tt" style="left:14.3px;top:1336.5px;">15</b>
<b class="t nm" style="left:155.7px;top:1337.0px;color:#FF9900;transform:translate(-50%,-50%) scaleX(1.0248)">thulang1111</b>
<div class="dc" style="top:1298px;height:77px"><div class="dl" style="top:-0.4px"><p>Dàn 64 Số:</p><p>05 06 07 08 09 14 15 16 17 18 20 21 22 23 24 25 26 27 28</p><p>29 30 31 32 33 34 35 36 37 38 39 50 51 52 53 54 55 56 57</p><p>58 59 70 71 72 73 74 75 76 77 78 79 90 91 92 93 94 95 96</p></div></div>
<b class="t mk" style="left:633.5px;top:1337.5px;">o</b>
<b class="t mk" style="left:655.0px;top:1337.5px;">x</b>
<b class="t mk" style="left:678.0px;top:1337.5px;">x</b>
<b class="t mk" style="left:701.0px;top:1337.5px;">x</b>
<b class="t mk" style="left:724.0px;top:1337.5px;">o</b>
<b class="t mk" style="left:747.0px;top:1337.5px;">x</b>
<b class="t mk" style="left:770.0px;top:1337.5px;">x</b>
<b class="t mk" style="left:793.0px;top:1337.5px;">o</b>
<b class="t mk" style="left:816.0px;top:1337.5px;">x</b>
<b class="t mk" style="left:839.0px;top:1337.5px;">x</b>
<b class="t mk" style="left:862.0px;top:1337.5px;">x</b>
<b class="t mk" style="left:885.0px;top:1337.5px;">x</b>
<b class="t mk" style="left:908.0px;top:1337.5px;">x</b>
<b class="t mk" style="left:931.0px;top:1337.5px;">x</b>
<b class="t mk" style="left:954.0px;top:1337.5px;">o</b>
<b class="t mk" style="left:977.0px;top:1337.5px;">x</b>
<b class="t mk" style="left:1000.0px;top:1337.5px;">x</b>
<b class="t mk" style="left:1023.0px;top:1337.5px;">x</b>
<b class="t mk" style="left:1046.0px;top:1337.5px;">o</b>
<b class="t mk" style="left:1069.0px;top:1337.5px;">x</b>
<b class="t mk" style="left:1092.0px;top:1337.5px;">o</b>
<b class="t mk" style="left:1115.0px;top:1337.5px;">o</b>
<b class="t mk" style="left:1138.0px;top:1337.5px;">x</b>
<b class="t mk" style="left:1161.0px;top:1337.5px;">x</b>
<b class="t mk" style="left:1184.0px;top:1337.5px;">x</b>
<b class="t mk" style="left:1207.0px;top:1337.5px;">x</b>
<b class="t mk" style="left:1230.0px;top:1337.5px;">o</b>
<b class="t mk" style="left:1253.0px;top:1337.5px;">o</b>
<b class="t mk" style="left:1276.0px;top:1337.5px;">o</b>
<b class="t mk" style="left:1299.0px;top:1337.5px;">o</b>
<b class="t mk" style="left:1321.5px;top:1337.5px;">x</b>
<b class="t ct" style="left:1346.5px;top:1336.5px;">11</b>
<b class="t ct" style="left:1394px;top:1336.5px;">20</b>
<b class="t tt" style="left:14.3px;top:1416.5px;">16</b>
<b class="t nm" style="left:156.4px;top:1417.0px;color:#974706;transform:translate(-50%,-50%) scaleX(0.9600)">Cuongvjec0488</b>
<div class="dc" style="top:1378px;height:77px"><div class="dl" style="top:-0.4px"><p>Dàn 64 Số:</p><p>00 01 03 05 07 08 09 10 11 12 13 16 17 18 19 20 21 22 23</p><p>25 26 27 28 29 40 41 43 45 46 47 48 49 50 52 53 55 56 57</p><p>58 59 61 62 63 65 66 67 68 69 70 71 72 73 75 76 77 78 90</p></div></div>
<b class="t mk" style="left:633.5px;top:1417.5px;">x</b>
<b class="t mk" style="left:655.0px;top:1417.5px;">o</b>
<b class="t mk" style="left:678.0px;top:1417.5px;">o</b>
<b class="t mk" style="left:701.0px;top:1417.5px;">x</b>
<b class="t mk" style="left:724.0px;top:1417.5px;">o</b>
<b class="t mk" style="left:747.0px;top:1417.5px;">x</b>
<b class="t mk" style="left:770.0px;top:1417.5px;">x</b>
<b class="t mk" style="left:793.0px;top:1417.5px;">x</b>
<b class="t mk" style="left:816.0px;top:1417.5px;">o</b>
<b class="t mk" style="left:839.0px;top:1417.5px;">x</b>
<b class="t mk" style="left:862.0px;top:1417.5px;">x</b>
<b class="t mk" style="left:885.0px;top:1417.5px;">x</b>
<b class="t mk" style="left:908.0px;top:1417.5px;">x</b>
<b class="t mk" style="left:931.0px;top:1417.5px;">o</b>
<b class="t mk" style="left:954.0px;top:1417.5px;">x</b>
<b class="t mk" style="left:977.0px;top:1417.5px;">x</b>
<b class="t mk" style="left:1000.0px;top:1417.5px;">x</b>
<b class="t mk" style="left:1023.0px;top:1417.5px;">x</b>
<b class="t mk" style="left:1046.0px;top:1417.5px;">x</b>
<b class="t mk" style="left:1069.0px;top:1417.5px;">x</b>
<b class="t mk" style="left:1092.0px;top:1417.5px;">o</b>
<b class="t mk" style="left:1115.0px;top:1417.5px;">o</b>
<b class="t mk" style="left:1138.0px;top:1417.5px;">o</b>
<b class="t mk" style="left:1161.0px;top:1417.5px;">o</b>
<b class="t mk" style="left:1184.0px;top:1417.5px;">x</b>
<b class="t mk" style="left:1207.0px;top:1417.5px;">x</b>
<b class="t mk" style="left:1230.0px;top:1417.5px;">x</b>
<b class="t mk" style="left:1253.0px;top:1417.5px;">x</b>
<b class="t mk" style="left:1276.0px;top:1417.5px;">o</b>
<b class="t mk" style="left:1299.0px;top:1417.5px;">o</b>
<b class="t mk" style="left:1321.5px;top:1417.5px;">x</b>
<b class="t ct" style="left:1346.5px;top:1416.5px;">11</b>
<b class="t ct" style="left:1394px;top:1416.5px;">20</b>
<b class="t tt" style="left:14.3px;top:1496.5px;">17</b>
<b class="t nm it" style="left:155.1px;top:1497.0px;color:#FF9900;transform:translate(-50%,-50%) scaleX(0.9909)">Daicalanhdao</b>
<div class="dc" style="top:1458px;height:77px"><div class="dl" style="top:-0.4px"><p>Dàn 64 Số:</p><p>03 08 12 13 14 15 17 18 19 21 23 24 26 27 28 29 30 31 32</p><p>34 35 37 38 41 42 43 45 46 47 48 51 53 54 56 58 59 62 64</p><p>65 67 68 71 72 73 74 76 77 78 79 80 81 82 83 84 85 86 87</p></div></div>
<b class="t mk" style="left:633.5px;top:1497.5px;">x</b>
<b class="t mk" style="left:655.0px;top:1497.5px;">x</b>
<b class="t mk" style="left:678.0px;top:1497.5px;">x</b>
<b class="t mk" style="left:701.0px;top:1497.5px;">o</b>
<b class="t mk" style="left:724.0px;top:1497.5px;">o</b>
<b class="t mk" style="left:747.0px;top:1497.5px;">o</b>
<b class="t mk" style="left:770.0px;top:1497.5px;">x</b>
<b class="t mk" style="left:793.0px;top:1497.5px;">x</b>
<b class="t mk" style="left:816.0px;top:1497.5px;">x</b>
<b class="t mk" style="left:839.0px;top:1497.5px;">x</b>
<b class="t mk" style="left:862.0px;top:1497.5px;">x</b>
<b class="t mk" style="left:885.0px;top:1497.5px;">x</b>
<b class="t mk" style="left:908.0px;top:1497.5px;">x</b>
<b class="t mk" style="left:931.0px;top:1497.5px;">x</b>
<b class="t mk" style="left:954.0px;top:1497.5px;">o</b>
<b class="t mk" style="left:977.0px;top:1497.5px;">x</b>
<b class="t mk" style="left:1000.0px;top:1497.5px;">o</b>
<b class="t mk" style="left:1023.0px;top:1497.5px;">o</b>
<b class="t mk" style="left:1046.0px;top:1497.5px;">o</b>
<b class="t mk" style="left:1069.0px;top:1497.5px;">x</b>
<b class="t mk" style="left:1092.0px;top:1497.5px;">o</b>
<b class="t mk" style="left:1115.0px;top:1497.5px;">x</b>
<b class="t mk" style="left:1138.0px;top:1497.5px;">x</b>
<b class="t mk" style="left:1161.0px;top:1497.5px;">o</b>
<b class="t mk" style="left:1184.0px;top:1497.5px;">x</b>
<b class="t mk" style="left:1207.0px;top:1497.5px;">o</b>
<b class="t mk" style="left:1230.0px;top:1497.5px;">o</b>
<b class="t mk" style="left:1253.0px;top:1497.5px;">x</b>
<b class="t mk" style="left:1276.0px;top:1497.5px;">x</b>
<b class="t mk" style="left:1299.0px;top:1497.5px;">o</b>
<b class="t mk" style="left:1321.5px;top:1497.5px;">x</b>
<b class="t ct" style="left:1346.5px;top:1496.5px;">12</b>
<b class="t ct" style="left:1394px;top:1496.5px;">19</b>
<b class="t tt" style="left:14.3px;top:1576.5px;">18</b>
<b class="t nm" style="left:155.7px;top:1577.0px;color:#FF9900;transform:translate(-50%,-50%) scaleX(0.9829)">minhquang2015</b>
<div class="dc" style="top:1538px;height:77px"><div class="dl" style="top:-0.4px"><p>Dàn 64 Số:</p><p>00 10 01 20 02 30 03 40 04 50 05 60 06 70 07 80 08 90 09</p><p>15 51 25 52 35 53 45 54 55 65 56 75 57 85 58 95 59 16 61</p><p>26 62 36 63 46 64 66 76 67 86 68 96 69 19 91 29 92 39 93</p></div></div>
<b class="t mk" style="left:633.5px;top:1577.5px;">x</b>
<b class="t mk" style="left:655.0px;top:1577.5px;">o</b>
<b class="t mk" style="left:678.0px;top:1577.5px;">o</b>
<b class="t mk" style="left:701.0px;top:1577.5px;">x</b>
<b class="t mk" style="left:724.0px;top:1577.5px;">o</b>
<b class="t mk" style="left:747.0px;top:1577.5px;">x</b>
<b class="t mk" style="left:770.0px;top:1577.5px;">o</b>
<b class="t mk" style="left:793.0px;top:1577.5px;">x</b>
<b class="t mk" style="left:816.0px;top:1577.5px;">x</b>
<b class="t mk" style="left:839.0px;top:1577.5px;">o</b>
<b class="t mk" style="left:862.0px;top:1577.5px;">o</b>
<b class="t mk" style="left:885.0px;top:1577.5px;">x</b>
<b class="t mk" style="left:908.0px;top:1577.5px;">x</b>
<b class="t mk" style="left:931.0px;top:1577.5px;">o</b>
<b class="t mk" style="left:954.0px;top:1577.5px;">o</b>
<b class="t mk" style="left:977.0px;top:1577.5px;">x</b>
<b class="t mk" style="left:1000.0px;top:1577.5px;">o</b>
<b class="t mk" style="left:1023.0px;top:1577.5px;">x</b>
<b class="t mk" style="left:1046.0px;top:1577.5px;">x</b>
<b class="t mk" style="left:1069.0px;top:1577.5px;">x</b>
<b class="t mk" style="left:1092.0px;top:1577.5px;">x</b>
<b class="t mk" style="left:1115.0px;top:1577.5px;">x</b>
<b class="t mk" style="left:1138.0px;top:1577.5px;">o</b>
<b class="t mk" style="left:1161.0px;top:1577.5px;">o</b>
<b class="t mk" style="left:1184.0px;top:1577.5px;">x</b>
<b class="t mk" style="left:1207.0px;top:1577.5px;">x</b>
<b class="t mk" style="left:1230.0px;top:1577.5px;">x</b>
<b class="t mk" style="left:1253.0px;top:1577.5px;">o</b>
<b class="t mk" style="left:1276.0px;top:1577.5px;">x</b>
<b class="t mk" style="left:1299.0px;top:1577.5px;">x</b>
<b class="t mk" style="left:1321.5px;top:1577.5px;">o</b>
<b class="t ct" style="left:1346.5px;top:1576.5px;">13</b>
<b class="t ct" style="left:1394px;top:1576.5px;">18</b>
<b class="t tt" style="left:14.3px;top:1656.5px;">19</b>
<b class="t nm" style="left:155.6px;top:1657.0px;color:#974706;transform:translate(-50%,-50%) scaleX(1.0211)">allwin99874</b>
<div class="dc" style="top:1618px;height:77px"><div class="dl" style="top:-0.4px"><p>Dàn 62 Số:</p><p>00 01 03 04 05 06 08 10 11 13 14 15 16 17 19 30 31 33 34</p><p>35 37 38 39 40 41 43 44 46 47 48 49 50 51 53 58 59 60 61</p><p>64 68 69 71 73 74 78 79 80 83 84 85 86 87 88 89 91 93 94</p></div></div>
<b class="t mk" style="left:633.5px;top:1657.5px;">x</b>
<b class="t mk" style="left:655.0px;top:1657.5px;">o</b>
<b class="t mk" style="left:678.0px;top:1657.5px;">x</b>
<b class="t mk" style="left:701.0px;top:1657.5px;">x</b>
<b class="t mk" style="left:724.0px;top:1657.5px;">o</b>
<b class="t mk" style="left:747.0px;top:1657.5px;">o</b>
<b class="t mk" style="left:770.0px;top:1657.5px;">x</b>
<b class="t mk" style="left:793.0px;top:1657.5px;">x</b>
<b class="t mk" style="left:816.0px;top:1657.5px;">o</b>
<b class="t mk" style="left:839.0px;top:1657.5px;">x</b>
<b class="t mk" style="left:862.0px;top:1657.5px;">o</b>
<b class="t mk" style="left:885.0px;top:1657.5px;">o</b>
<b class="t mk" style="left:908.0px;top:1657.5px;">o</b>
<b class="t mk" style="left:931.0px;top:1657.5px;">o</b>
<b class="t mk" style="left:954.0px;top:1657.5px;">x</b>
<b class="t mk" style="left:977.0px;top:1657.5px;">x</b>
<b class="t mk" style="left:1000.0px;top:1657.5px;">o</b>
<b class="t mk" style="left:1023.0px;top:1657.5px;">x</b>
<b class="t mk" style="left:1046.0px;top:1657.5px;">x</b>
<b class="t mk" style="left:1069.0px;top:1657.5px;">x</b>
<b class="t mk" style="left:1092.0px;top:1657.5px;">o</b>
<b class="t mk" style="left:1115.0px;top:1657.5px;">o</b>
<b class="t mk" style="left:1138.0px;top:1657.5px;">x</b>
<b class="t mk" style="left:1161.0px;top:1657.5px;">x</b>
<b class="t mk" style="left:1184.0px;top:1657.5px;">x</b>
<b class="t mk" style="left:1207.0px;top:1657.5px;">o</b>
<b class="t mk" style="left:1230.0px;top:1657.5px;">x</b>
<b class="t mk" style="left:1253.0px;top:1657.5px;">x</b>
<b class="t mk" style="left:1276.0px;top:1657.5px;">o</b>
<b class="t mk" style="left:1299.0px;top:1657.5px;">x</b>
<b class="t mk" style="left:1321.5px;top:1657.5px;">x</b>
<b class="t ct" style="left:1346.5px;top:1656.5px;">13</b>
<b class="t ct" style="left:1394px;top:1656.5px;">18</b>
<b class="t tt" style="left:14.3px;top:1736.5px;">20</b>
<b class="t nm" style="left:156.1px;top:1737.0px;color:#974706;transform:translate(-50%,-50%) scaleX(0.9798)">huuphuc686</b>
<div class="dc" style="top:1698px;height:77px"><div class="dl" style="top:-0.4px"><p>Dàn 64 Số:</p><p>01 02 03 05 08 09 10 12 15 16 18 19 20 21 22 23 24 26 27</p><p>29 30 32 33 35 36 37 40 45 46 47 48 49 50 51 53 54 55 56</p><p>58 59 62 63 64 65 72 73 74 77 78 79 80 81 84 85 87 88 89</p></div></div>
<b class="t mk" style="left:633.5px;top:1737.5px;">x</b>
<b class="t mk" style="left:655.0px;top:1737.5px;">x</b>
<b class="t mk" style="left:678.0px;top:1737.5px;">x</b>
<b class="t mk" style="left:701.0px;top:1737.5px;">x</b>
<b class="t mk" style="left:724.0px;top:1737.5px;">o</b>
<b class="t mk" style="left:747.0px;top:1737.5px;">o</b>
<b class="t mk" style="left:770.0px;top:1737.5px;">x</b>
<b class="t mk" style="left:793.0px;top:1737.5px;">x</b>
<b class="t mk" style="left:816.0px;top:1737.5px;">o</b>
<b class="t mk" style="left:839.0px;top:1737.5px;">o</b>
<b class="t mk" style="left:862.0px;top:1737.5px;">o</b>
<b class="t mk" style="left:885.0px;top:1737.5px;">o</b>
<b class="t mk" style="left:908.0px;top:1737.5px;">o</b>
<b class="t mk" style="left:931.0px;top:1737.5px;">x</b>
<b class="t mk" style="left:954.0px;top:1737.5px;">o</b>
<b class="t mk" style="left:977.0px;top:1737.5px;">x</b>
<b class="t mk" style="left:1000.0px;top:1737.5px;">x</b>
<b class="t mk" style="left:1023.0px;top:1737.5px;">x</b>
<b class="t mk" style="left:1046.0px;top:1737.5px;">x</b>
<b class="t mk" style="left:1069.0px;top:1737.5px;">x</b>
<b class="t mk" style="left:1092.0px;top:1737.5px;">o</b>
<b class="t mk" style="left:1115.0px;top:1737.5px;">x</b>
<b class="t mk" style="left:1138.0px;top:1737.5px;">x</b>
<b class="t mk" style="left:1161.0px;top:1737.5px;">o</b>
<b class="t mk" style="left:1184.0px;top:1737.5px;">o</b>
<b class="t mk" style="left:1207.0px;top:1737.5px;">o</b>
<b class="t mk" style="left:1230.0px;top:1737.5px;">o</b>
<b class="t mk" style="left:1253.0px;top:1737.5px;">x</b>
<b class="t mk" style="left:1276.0px;top:1737.5px;">x</b>
<b class="t mk" style="left:1299.0px;top:1737.5px;">x</b>
<b class="t mk" style="left:1321.5px;top:1737.5px;">o</b>
<b class="t ct" style="left:1346.5px;top:1736.5px;">14</b>
<b class="t ct" style="left:1394px;top:1736.5px;">17</b>
<b class="t tt" style="left:14.3px;top:1816.5px;">21</b>
<b class="t nm" style="left:155.8px;top:1817.0px;color:#974706;transform:translate(-50%,-50%) scaleX(0.9679)">FerencPuskas77999</b>
<div class="dc" style="top:1778px;height:77px"><div class="dl" style="top:-0.4px"><p>Dàn 64 Số:</p><p>00 01 02 03 04 05 07 08 09 20 21 22 23 25 27 28 29 30 31</p><p>32 34 35 37 39 40 41 43 44 45 47 48 49 50 52 53 54 55 57</p><p>58 59 62 63 64 65 67 68 69 70 71 72 73 74 75 80 81 82 84</p></div></div>
<b class="t mk" style="left:633.5px;top:1817.5px;">o</b>
<b class="t mk" style="left:655.0px;top:1817.5px;">x</b>
<b class="t mk" style="left:678.0px;top:1817.5px;">o</b>
<b class="t mk" style="left:701.0px;top:1817.5px;">x</b>
<b class="t mk" style="left:724.0px;top:1817.5px;">o</b>
<b class="t mk" style="left:747.0px;top:1817.5px;">x</b>
<b class="t mk" style="left:770.0px;top:1817.5px;">o</b>
<b class="t mk" style="left:793.0px;top:1817.5px;">o</b>
<b class="t mk" style="left:816.0px;top:1817.5px;">x</b>
<b class="t mk" style="left:839.0px;top:1817.5px;">x</b>
<b class="t mk" style="left:862.0px;top:1817.5px;">x</b>
<b class="t mk" style="left:885.0px;top:1817.5px;">x</b>
<b class="t mk" style="left:908.0px;top:1817.5px;">x</b>
<b class="t mk" style="left:931.0px;top:1817.5px;">o</b>
<b class="t mk" style="left:954.0px;top:1817.5px;">x</b>
<b class="t mk" style="left:977.0px;top:1817.5px;">x</b>
<b class="t mk" style="left:1000.0px;top:1817.5px;">o</b>
<b class="t mk" style="left:1023.0px;top:1817.5px;">o</b>
<b class="t mk" style="left:1046.0px;top:1817.5px;">x</b>
<b class="t mk" style="left:1069.0px;top:1817.5px;">o</b>
<b class="t mk" style="left:1092.0px;top:1817.5px;">x</b>
<b class="t mk" style="left:1115.0px;top:1817.5px;">o</b>
<b class="t mk" style="left:1138.0px;top:1817.5px;">x</b>
<b class="t mk" style="left:1161.0px;top:1817.5px;">o</b>
<b class="t mk" style="left:1184.0px;top:1817.5px;">x</b>
<b class="t mk" style="left:1207.0px;top:1817.5px;">x</b>
<b class="t mk" style="left:1230.0px;top:1817.5px;">x</b>
<b class="t mk" style="left:1253.0px;top:1817.5px;">o</b>
<b class="t mk" style="left:1276.0px;top:1817.5px;">o</b>
<b class="t mk" style="left:1299.0px;top:1817.5px;">o</b>
<b class="t mk" style="left:1321.5px;top:1817.5px;">x</b>
<b class="t ct" style="left:1346.5px;top:1816.5px;">14</b>
<b class="t ct" style="left:1394px;top:1816.5px;">17</b>
<b class="t tt" style="left:14.3px;top:1896.5px;">22</b>
<b class="t nm" style="left:156.3px;top:1897.0px;color:#00B0F0;transform:translate(-50%,-50%) scaleX(0.9763)">miucon</b>
<div class="dc" style="top:1858px;height:77px"><div class="dl" style="top:-0.4px"><p>Dàn 64 Số:</p><p>02 03 04 05 07 08 09 11 12 13 15 16 17 20 21 23 25 26 30</p><p>31 32 33 34 35 36 37 38 39 40 43 45 48 50 51 52 53 54 55</p><p>56 57 58 59 61 62 63 65 66 67 70 71 73 75 76 78 80 83 84</p></div></div>
<b class="t mk" style="left:633.5px;top:1897.5px;">x</b>
<b class="t mk" style="left:655.0px;top:1897.5px;">o</b>
<b class="t mk" style="left:678.0px;top:1897.5px;">x</b>
<b class="t mk" style="left:701.0px;top:1897.5px;">x</b>
<b class="t mk" style="left:724.0px;top:1897.5px;">o</b>
<b class="t mk" style="left:747.0px;top:1897.5px;">x</b>
<b class="t mk" style="left:770.0px;top:1897.5px;">x</b>
<b class="t mk" style="left:793.0px;top:1897.5px;">x</b>
<b class="t mk" style="left:816.0px;top:1897.5px;">o</b>
<b class="t mk" style="left:839.0px;top:1897.5px;">x</b>
<b class="t mk" style="left:862.0px;top:1897.5px;">x</b>
<b class="t mk" style="left:885.0px;top:1897.5px;">x</b>
<b class="t mk" style="left:908.0px;top:1897.5px;">x</b>
<b class="t mk" style="left:931.0px;top:1897.5px;">o</b>
<b class="t mk" style="left:954.0px;top:1897.5px;">o</b>
<b class="t mk" style="left:977.0px;top:1897.5px;">o</b>
<b class="t mk" style="left:1000.0px;top:1897.5px;">x</b>
<b class="t mk" style="left:1023.0px;top:1897.5px;">x</b>
<b class="t mk" style="left:1046.0px;top:1897.5px;">o</b>
<b class="t mk" style="left:1069.0px;top:1897.5px;">x</b>
<b class="t mk" style="left:1092.0px;top:1897.5px;">o</b>
<b class="t mk" style="left:1115.0px;top:1897.5px;">o</b>
<b class="t mk" style="left:1138.0px;top:1897.5px;">o</b>
<b class="t mk" style="left:1161.0px;top:1897.5px;">o</b>
<b class="t mk" style="left:1184.0px;top:1897.5px;">x</b>
<b class="t mk" style="left:1207.0px;top:1897.5px;">o</b>
<b class="t mk" style="left:1230.0px;top:1897.5px;">x</b>
<b class="t mk" style="left:1253.0px;top:1897.5px;">o</b>
<b class="t mk" style="left:1276.0px;top:1897.5px;">x</b>
<b class="t mk" style="left:1299.0px;top:1897.5px;">o</b>
<b class="t mk" style="left:1321.5px;top:1897.5px;">x</b>
<b class="t ct" style="left:1346.5px;top:1896.5px;">14</b>
<b class="t ct" style="left:1394px;top:1896.5px;">17</b>
<b class="t tt" style="left:14.3px;top:1976.5px;">23</b>
<b class="t nm" style="left:156.1px;top:1977.0px;color:#974706;transform:translate(-50%,-50%) scaleX(0.8877)">Kachia</b>
<b class="t mk" style="left:633.5px;top:1977.5px;">o</b>
<b class="t mk" style="left:655.0px;top:1977.5px;">o</b>
<b class="t mk" style="left:678.0px;top:1977.5px;">o</b>
<b class="t mk" style="left:701.0px;top:1977.5px;">x</b>
<b class="t mk" style="left:724.0px;top:1977.5px;">x</b>
<b class="t mk" style="left:747.0px;top:1977.5px;">o</b>
<b class="t mk" style="left:770.0px;top:1977.5px;">x</b>
<b class="t mk" style="left:793.0px;top:1977.5px;">x</b>
<b class="t mk" style="left:816.0px;top:1977.5px;">x</b>
<b class="t mk" style="left:839.0px;top:1977.5px;">x</b>
<b class="t mk" style="left:862.0px;top:1977.5px;">x</b>
<b class="t mk" style="left:885.0px;top:1977.5px;">x</b>
<b class="t mk" style="left:908.0px;top:1977.5px;">x</b>
<b class="t mk" style="left:931.0px;top:1977.5px;">x</b>
<b class="t mk" style="left:954.0px;top:1977.5px;">x</b>
<b class="t mk" style="left:977.0px;top:1977.5px;">o</b>
<b class="t mk" style="left:1000.0px;top:1977.5px;">o</b>
<b class="t mk" style="left:1023.0px;top:1977.5px;">o</b>
<b class="t mk" style="left:1046.0px;top:1977.5px;">x</b>
<b class="t mk" style="left:1069.0px;top:1977.5px;">o</b>
<b class="t mk" style="left:1092.0px;top:1977.5px;">x</b>
<b class="t mk" style="left:1115.0px;top:1977.5px;">x</b>
<b class="t mk" style="left:1138.0px;top:1977.5px;">x</b>
<b class="t mk" style="left:1161.0px;top:1977.5px;">o</b>
<b class="t mk" style="left:1184.0px;top:1977.5px;">o</b>
<b class="t mk" style="left:1207.0px;top:1977.5px;">o</b>
<b class="t mk" style="left:1230.0px;top:1977.5px;">o</b>
<b class="t mk" style="left:1253.0px;top:1977.5px;">o</b>
<b class="t mk" style="left:1276.0px;top:1977.5px;">x</b>
<b class="t mk" style="left:1299.0px;top:1977.5px;">o</b>
<b class="t mk" style="left:1321.5px;top:1977.5px;">o</b>
<b class="t ct" style="left:1346.5px;top:1976.5px;">15</b>
<b class="t ct" style="left:1394px;top:1976.5px;">16</b>
<b class="t tt" style="left:14.3px;top:2056.5px;">24</b>
<b class="t nm" style="left:155.6px;top:2057.0px;color:#974706;transform:translate(-50%,-50%) scaleX(0.9401)">Songque</b>
<div class="dc" style="top:2018px;height:77px"><div class="dl" style="top:-0.4px"><p>Dàn 64 Số:</p><p>00 02 07 08 09 11 14 15 16 18 19 20 21 22 23 24 27 28 29</p><p>30 31 33 34 35 38 39 40 43 45 46 47 49 50 52 53 54 55 58</p><p>59 60 61 63 64 65 66 68 70 71 74 75 79 80 83 86 87 88 90</p></div></div>
<b class="t mk" style="left:633.5px;top:2057.5px;">x</b>
<b class="t mk" style="left:655.0px;top:2057.5px;">x</b>
<b class="t mk" style="left:678.0px;top:2057.5px;">o</b>
<b class="t mk" style="left:701.0px;top:2057.5px;">o</b>
<b class="t mk" style="left:724.0px;top:2057.5px;">o</b>
<b class="t mk" style="left:747.0px;top:2057.5px;">o</b>
<b class="t mk" style="left:770.0px;top:2057.5px;">o</b>
<b class="t mk" style="left:793.0px;top:2057.5px;">x</b>
<b class="t mk" style="left:816.0px;top:2057.5px;">o</b>
<b class="t mk" style="left:839.0px;top:2057.5px;">o</b>
<b class="t mk" style="left:862.0px;top:2057.5px;">x</b>
<b class="t mk" style="left:885.0px;top:2057.5px;">o</b>
<b class="t mk" style="left:908.0px;top:2057.5px;">x</b>
<b class="t mk" style="left:931.0px;top:2057.5px;">o</b>
<b class="t mk" style="left:954.0px;top:2057.5px;">x</b>
<b class="t mk" style="left:977.0px;top:2057.5px;">x</b>
<b class="t mk" style="left:1000.0px;top:2057.5px;">o</b>
<b class="t mk" style="left:1023.0px;top:2057.5px;">x</b>
<b class="t mk" style="left:1046.0px;top:2057.5px;">o</b>
<b class="t mk" style="left:1069.0px;top:2057.5px;">x</b>
<b class="t mk" style="left:1092.0px;top:2057.5px;">o</b>
<b class="t mk" style="left:1115.0px;top:2057.5px;">o</b>
<b class="t mk" style="left:1138.0px;top:2057.5px;">x</b>
<b class="t mk" style="left:1161.0px;top:2057.5px;">x</b>
<b class="t mk" style="left:1184.0px;top:2057.5px;">o</b>
<b class="t mk" style="left:1207.0px;top:2057.5px;">x</b>
<b class="t mk" style="left:1230.0px;top:2057.5px;">o</b>
<b class="t mk" style="left:1253.0px;top:2057.5px;">x</b>
<b class="t mk" style="left:1276.0px;top:2057.5px;">x</b>
<b class="t mk" style="left:1299.0px;top:2057.5px;">o</b>
<b class="t mk" style="left:1321.5px;top:2057.5px;">x</b>
<b class="t ct" style="left:1346.5px;top:2056.5px;">16</b>
<b class="t ct" style="left:1394px;top:2056.5px;">15</b>
<svg id="logo" width="289" height="90" viewBox="0 0 289 90" style="position:absolute;left:0;top:0">
<defs>
<linearGradient id="gK" x1="0" y1="0.68" x2="1" y2="0.22"><stop offset="0" stop-color="#7A0A0E"/><stop offset="0.45" stop-color="#E01218"/><stop offset="0.75" stop-color="#EE2A30"/><stop offset="1" stop-color="#F77070"/></linearGradient>
<linearGradient id="gE" x1="0" y1="0.68" x2="1" y2="0.22"><stop offset="0" stop-color="#0A1E58"/><stop offset="0.5" stop-color="#0A3CB4"/><stop offset="0.8" stop-color="#3A64C4"/><stop offset="1" stop-color="#7C9CDC"/></linearGradient>
<linearGradient id="gT" x1="0" y1="0.68" x2="1" y2="0.22"><stop offset="0" stop-color="#6E420C"/><stop offset="0.35" stop-color="#B87A10"/><stop offset="0.65" stop-color="#EBA21A"/><stop offset="1" stop-color="#F8C060"/></linearGradient>
<linearGradient id="gQ" x1="0" y1="0.68" x2="1" y2="0.22"><stop offset="0" stop-color="#063A06"/><stop offset="0.5" stop-color="#0A6E0E"/><stop offset="0.8" stop-color="#2E9030"/><stop offset="1" stop-color="#6CBC6C"/></linearGradient>
<linearGradient id="gQi" x1="0" y1="1" x2="1" y2="0"><stop offset="0" stop-color="#0A700E"/><stop offset="1" stop-color="#129018"/></linearGradient>
<linearGradient id="gU" x1="0" y1="0.68" x2="1" y2="0.22"><stop offset="0" stop-color="#163C72"/><stop offset="0.45" stop-color="#2870BC"/><stop offset="0.75" stop-color="#3C90E0"/><stop offset="1" stop-color="#90BCEC"/></linearGradient>
<linearGradient id="gA" x1="0" y1="0.68" x2="1" y2="0.22"><stop offset="0" stop-color="#5E2070"/><stop offset="0.45" stop-color="#A840C0"/><stop offset="0.7" stop-color="#CC5CE0"/><stop offset="1" stop-color="#EAA4F6"/></linearGradient>
<linearGradient id="g2" x1="0" y1="0.68" x2="1" y2="0.22"><stop offset="0" stop-color="#4E3206"/><stop offset="0.4" stop-color="#8E5C0A"/><stop offset="0.7" stop-color="#B8862A"/><stop offset="1" stop-color="#D2AE62"/></linearGradient>
<linearGradient id="gS" x1="0" y1="0.62" x2="1" y2="0.38"><stop offset="0" stop-color="#000" stop-opacity="0.42"/><stop offset="0.22" stop-color="#000" stop-opacity="0.16"/><stop offset="0.45" stop-color="#000" stop-opacity="0"/></linearGradient>
</defs>
<rect x="0" y="0" width="289" height="90" fill="#fff"/>
<rect x="0" y="0" width="289" height="1" fill="#D2D2D2"/>
<rect x="0" y="0" width="1" height="90" fill="#D0D0D0"/>
<!-- circles -->
<ellipse cx="21.8" cy="43.1" rx="20.4" ry="24.9" fill="url(#gK)"/>
<ellipse cx="21.8" cy="43.1" rx="20.4" ry="24.9" fill="url(#gS)"/>
<polygon fill="#fff" points="7.8,26.4 14.2,26.4 14.2,39.4 20.4,26.4 28.3,26.4 21,43.3 28,59.5 20.8,59.5 14.2,45.6 14.2,59.5 7.8,59.5"/>
<ellipse cx="48.3" cy="43.6" rx="20.9" ry="25.3" fill="#fff"/>
<ellipse cx="48.3" cy="43.6" rx="20.5" ry="24.9" fill="url(#gE)"/>
<ellipse cx="48.3" cy="43.6" rx="20.5" ry="24.9" fill="url(#gS)"/>
<polygon fill="#fff" points="36.6,26.8 53.9,26.8 53.9,33 43.3,33 43.3,39.4 52.5,39.4 52.5,46.1 43.3,46.1 43.3,53.1 53.9,53.1 53.9,59.7 36.6,59.7"/>
<ellipse cx="77.7" cy="43.6" rx="20.9" ry="25.3" fill="#fff"/>
<ellipse cx="77.7" cy="43.6" rx="20.5" ry="24.9" fill="url(#gT)"/>
<ellipse cx="77.7" cy="43.6" rx="20.5" ry="24.9" fill="url(#gS)"/>
<polygon fill="#fff" points="64.2,26.6 82.9,26.6 82.9,32.7 77.4,32.7 77.4,59.8 70.1,59.8 70.1,32.7 64.2,32.7"/>
<ellipse cx="104.8" cy="43.6" rx="20.9" ry="25.3" fill="#fff"/>
<ellipse cx="104.8" cy="43.6" rx="20.5" ry="24.9" fill="url(#gQ)"/>
<ellipse cx="104.8" cy="43.6" rx="20.5" ry="24.9" fill="url(#gS)"/>
<path fill="#fff" fill-rule="evenodd" d="M93,30.5 L96.5,26.2 L110.5,26.2 L113.8,30.5 L113.8,56 L111.6,58.6 L113.6,61.6 L108.2,65.2 L104.6,59.8 L96.5,59.8 L93,55.5 Z M99.4,33 L106.7,33 L106.7,52.6 L99.4,52.6 Z"/>
<ellipse cx="131.4" cy="44.3" rx="20.9" ry="25.1" fill="#fff"/>
<ellipse cx="131.4" cy="44.3" rx="20.5" ry="24.7" fill="url(#gU)"/>
<ellipse cx="131.4" cy="44.3" rx="20.5" ry="24.7" fill="url(#gS)"/>
<path fill="#fff" d="M120.6,28 L127.4,28 L127.4,54.5 L134.3,54.5 L134.3,28 L141.3,28 L141.3,57.6 L137.8,61.8 L124.2,61.8 L120.6,57.6 Z"/>
<ellipse cx="160.4" cy="44.4" rx="20.9" ry="25" fill="#fff"/>
<ellipse cx="160.4" cy="44.4" rx="20.5" ry="24.6" fill="url(#gA)"/>
<ellipse cx="160.4" cy="44.4" rx="20.5" ry="24.6" fill="url(#gS)"/>
<path fill="#fff" fill-rule="evenodd" d="M155,28 L163.1,28 L172,61.8 L165.2,61.8 L164.1,55.4 L154.6,55.4 L153.4,61.8 L146.6,61.8 Z M158.9,37.5 L156.1,47.8 L162,47.8 Z"/>
<ellipse cx="188" cy="45.3" rx="21.1" ry="25" fill="#fff"/>
<ellipse cx="188" cy="45.3" rx="20.7" ry="24.6" fill="url(#g2)"/>
<ellipse cx="188" cy="45.3" rx="20.7" ry="24.6" fill="url(#gS)"/>
<polygon fill="#fff" points="178.2,33 182.4,28 194.9,28 198.9,32.4 198.9,45.6 195.8,49.5 185.4,49.5 185.4,54.5 198.9,54.5 198.9,62.1 178.2,62.1 178.2,47.5 181.5,42 191.6,42 191.6,35.5 185.2,35.5 185.2,38 178.2,38"/>
<!-- FORUM -->
<polygon fill="#EC1C24" points="217,18.5 277.9,18.5 283.2,24 283.2,40.1 217,40.1"/>
<g transform="translate(220.6,37.4) scale(0.6,1)"><text x="0" y="0" font-family="Liberation Sans" font-weight="bold" font-style="italic" font-size="20.6" fill="#fff" letter-spacing="3.4">FORUM</text></g>
<text x="3.2" y="83.9" font-family="Liberation Sans" font-size="16.4" fill="#0a0a0a" stroke="#0a0a0a" stroke-width="0.22" textLength="280.4" lengthAdjust="spacing">Trang kết quả xổ số lớn nhất Việt Nam</text>
</svg>

</div>
</body></html>
